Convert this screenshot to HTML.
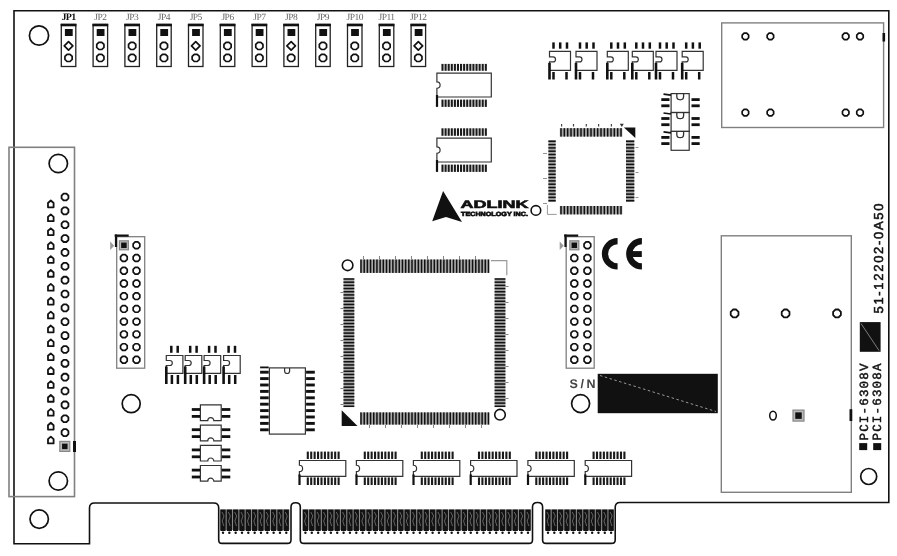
<!DOCTYPE html>
<html><head><meta charset="utf-8"><style>
html,body{margin:0;padding:0;background:#fff;}
body{width:897px;height:556px;overflow:hidden;}
svg{display:block;}
text{text-rendering:geometricPrecision;}
body{filter:grayscale(1);}
</style></head><body>
<svg width="897" height="556" viewBox="0 0 897 556">
<path d="M14,10.7 H888.8 V502.5 H620 Q615.2,502.5 615.2,507.5 V540 Q615.2,543.4 611.5,543.4 H546 Q542.6,543.4 542.6,540 V507 Q542.6,502.5 537.6,502.5 Q532.5,502.5 532.5,507 V540 Q532.5,543.4 529,543.4 H304 Q300.3,543.4 300.3,540 V507 Q300.3,502.8 295.6,502.8 Q291,502.8 291,507 V540 Q291,543.4 287.5,543.4 H222 Q218.7,543.4 218.7,540 V508 Q218.7,503 213.7,503 H94.5 Q89.5,503 89.5,508 V543.7 H14 Z" fill="none" stroke="#111" stroke-width="1.6"/>
<circle cx="39" cy="35.5" r="9.6" fill="none" stroke="#111" stroke-width="1.7"/>
<circle cx="58.3" cy="163.5" r="9.2" fill="none" stroke="#111" stroke-width="1.7"/>
<circle cx="58.3" cy="481" r="9.2" fill="none" stroke="#111" stroke-width="1.7"/>
<circle cx="39.2" cy="519.1" r="9.2" fill="none" stroke="#111" stroke-width="1.7"/>
<circle cx="131.2" cy="403.7" r="9" fill="none" stroke="#111" stroke-width="1.7"/>
<circle cx="580.6" cy="403.6" r="9" fill="none" stroke="#111" stroke-width="1.7"/>
<circle cx="868.7" cy="476.5" r="8" fill="none" stroke="#111" stroke-width="1.7"/>
<rect x="61.3" y="24.5" width="14.5" height="42" fill="none" stroke="#222" stroke-width="1.3"/>
<rect x="60.7" y="23.7" width="15.7" height="2.6" fill="#111"/>
<rect x="64.9" y="29" width="7.8" height="7" fill="#111"/>
<polygon points="68.55,41.61 72.84,45.9 68.55,50.19 64.26,45.9" fill="none" stroke="#111" stroke-width="1.7" stroke-linejoin="round"/>
<polygon points="72.15,59.39 70.04,61.5 67.06,61.5 64.95,59.39 64.95,56.41 67.06,54.3 70.04,54.3 72.15,56.41" fill="none" stroke="#111" stroke-width="1.7" stroke-linejoin="round"/>
<text x="68.55" y="20" font-family="Liberation Serif" font-size="10" fill="#111" font-weight="bold" text-anchor="middle" letter-spacing="-0.6">JP1</text>
<rect x="93.1" y="24.5" width="14.5" height="42" fill="none" stroke="#222" stroke-width="1.3"/>
<rect x="92.5" y="23.7" width="15.7" height="2.6" fill="#111"/>
<rect x="96.7" y="29" width="7.8" height="7" fill="#111"/>
<polygon points="103.95,47.39 101.84,49.5 98.86,49.5 96.75,47.39 96.75,44.41 98.86,42.3 101.84,42.3 103.95,44.41" fill="none" stroke="#111" stroke-width="1.7" stroke-linejoin="round"/>
<polygon points="103.95,59.39 101.84,61.5 98.86,61.5 96.75,59.39 96.75,56.41 98.86,54.3 101.84,54.3 103.95,56.41" fill="none" stroke="#111" stroke-width="1.7" stroke-linejoin="round"/>
<text x="100.35" y="20" font-family="Liberation Serif" font-size="9.5" fill="#666" font-weight="normal" text-anchor="middle" letter-spacing="-0.5">JP2</text>
<rect x="124.9" y="24.5" width="14.5" height="42" fill="none" stroke="#222" stroke-width="1.3"/>
<rect x="124.3" y="23.7" width="15.7" height="2.6" fill="#111"/>
<rect x="128.5" y="29" width="7.8" height="7" fill="#111"/>
<polygon points="135.75,47.39 133.64,49.5 130.66,49.5 128.55,47.39 128.55,44.41 130.66,42.3 133.64,42.3 135.75,44.41" fill="none" stroke="#111" stroke-width="1.7" stroke-linejoin="round"/>
<polygon points="135.75,59.39 133.64,61.5 130.66,61.5 128.55,59.39 128.55,56.41 130.66,54.3 133.64,54.3 135.75,56.41" fill="none" stroke="#111" stroke-width="1.7" stroke-linejoin="round"/>
<text x="132.15" y="20" font-family="Liberation Serif" font-size="9.5" fill="#666" font-weight="normal" text-anchor="middle" letter-spacing="-0.5">JP3</text>
<rect x="156.7" y="24.5" width="14.5" height="42" fill="none" stroke="#222" stroke-width="1.3"/>
<rect x="156.1" y="23.7" width="15.7" height="2.6" fill="#111"/>
<rect x="160.3" y="29" width="7.8" height="7" fill="#111"/>
<polygon points="167.55,47.39 165.44,49.5 162.46,49.5 160.35,47.39 160.35,44.41 162.46,42.3 165.44,42.3 167.55,44.41" fill="none" stroke="#111" stroke-width="1.7" stroke-linejoin="round"/>
<polygon points="167.55,59.39 165.44,61.5 162.46,61.5 160.35,59.39 160.35,56.41 162.46,54.3 165.44,54.3 167.55,56.41" fill="none" stroke="#111" stroke-width="1.7" stroke-linejoin="round"/>
<text x="163.95" y="20" font-family="Liberation Serif" font-size="9.5" fill="#666" font-weight="normal" text-anchor="middle" letter-spacing="-0.5">JP4</text>
<rect x="188.5" y="24.5" width="14.5" height="42" fill="none" stroke="#222" stroke-width="1.3"/>
<rect x="187.9" y="23.7" width="15.7" height="2.6" fill="#111"/>
<rect x="192.1" y="29" width="7.8" height="7" fill="#111"/>
<polygon points="195.75,41.61 200.04,45.9 195.75,50.19 191.46,45.9" fill="none" stroke="#111" stroke-width="1.7" stroke-linejoin="round"/>
<polygon points="199.35,59.39 197.24,61.5 194.26,61.5 192.15,59.39 192.15,56.41 194.26,54.3 197.24,54.3 199.35,56.41" fill="none" stroke="#111" stroke-width="1.7" stroke-linejoin="round"/>
<text x="195.75" y="20" font-family="Liberation Serif" font-size="9.5" fill="#666" font-weight="normal" text-anchor="middle" letter-spacing="-0.5">JP5</text>
<rect x="220.3" y="24.5" width="14.5" height="42" fill="none" stroke="#222" stroke-width="1.3"/>
<rect x="219.7" y="23.7" width="15.7" height="2.6" fill="#111"/>
<rect x="223.9" y="29" width="7.8" height="7" fill="#111"/>
<polygon points="231.15,47.39 229.04,49.5 226.06,49.5 223.95,47.39 223.95,44.41 226.06,42.3 229.04,42.3 231.15,44.41" fill="none" stroke="#111" stroke-width="1.7" stroke-linejoin="round"/>
<polygon points="231.15,59.39 229.04,61.5 226.06,61.5 223.95,59.39 223.95,56.41 226.06,54.3 229.04,54.3 231.15,56.41" fill="none" stroke="#111" stroke-width="1.7" stroke-linejoin="round"/>
<text x="227.55" y="20" font-family="Liberation Serif" font-size="9.5" fill="#666" font-weight="normal" text-anchor="middle" letter-spacing="-0.5">JP6</text>
<rect x="252.1" y="24.5" width="14.5" height="42" fill="none" stroke="#222" stroke-width="1.3"/>
<rect x="251.5" y="23.7" width="15.7" height="2.6" fill="#111"/>
<rect x="255.7" y="29" width="7.8" height="7" fill="#111"/>
<polygon points="262.95,47.39 260.84,49.5 257.86,49.5 255.75,47.39 255.75,44.41 257.86,42.3 260.84,42.3 262.95,44.41" fill="none" stroke="#111" stroke-width="1.7" stroke-linejoin="round"/>
<polygon points="262.95,59.39 260.84,61.5 257.86,61.5 255.75,59.39 255.75,56.41 257.86,54.3 260.84,54.3 262.95,56.41" fill="none" stroke="#111" stroke-width="1.7" stroke-linejoin="round"/>
<text x="259.35" y="20" font-family="Liberation Serif" font-size="9.5" fill="#666" font-weight="normal" text-anchor="middle" letter-spacing="-0.5">JP7</text>
<rect x="283.9" y="24.5" width="14.5" height="42" fill="none" stroke="#222" stroke-width="1.3"/>
<rect x="283.3" y="23.7" width="15.7" height="2.6" fill="#111"/>
<rect x="287.5" y="29" width="7.8" height="7" fill="#111"/>
<polygon points="291.15,41.61 295.44,45.9 291.15,50.19 286.86,45.9" fill="none" stroke="#111" stroke-width="1.7" stroke-linejoin="round"/>
<polygon points="294.75,59.39 292.64,61.5 289.66,61.5 287.55,59.39 287.55,56.41 289.66,54.3 292.64,54.3 294.75,56.41" fill="none" stroke="#111" stroke-width="1.7" stroke-linejoin="round"/>
<text x="291.15" y="20" font-family="Liberation Serif" font-size="9.5" fill="#666" font-weight="normal" text-anchor="middle" letter-spacing="-0.5">JP8</text>
<rect x="315.7" y="24.5" width="14.5" height="42" fill="none" stroke="#222" stroke-width="1.3"/>
<rect x="315.1" y="23.7" width="15.7" height="2.6" fill="#111"/>
<rect x="319.3" y="29" width="7.8" height="7" fill="#111"/>
<polygon points="326.55,47.39 324.44,49.5 321.46,49.5 319.35,47.39 319.35,44.41 321.46,42.3 324.44,42.3 326.55,44.41" fill="none" stroke="#111" stroke-width="1.7" stroke-linejoin="round"/>
<polygon points="326.55,59.39 324.44,61.5 321.46,61.5 319.35,59.39 319.35,56.41 321.46,54.3 324.44,54.3 326.55,56.41" fill="none" stroke="#111" stroke-width="1.7" stroke-linejoin="round"/>
<text x="322.95" y="20" font-family="Liberation Serif" font-size="9.5" fill="#666" font-weight="normal" text-anchor="middle" letter-spacing="-0.5">JP9</text>
<rect x="347.5" y="24.5" width="14.5" height="42" fill="none" stroke="#222" stroke-width="1.3"/>
<rect x="346.9" y="23.7" width="15.7" height="2.6" fill="#111"/>
<rect x="351.1" y="29" width="7.8" height="7" fill="#111"/>
<polygon points="358.35,47.39 356.24,49.5 353.26,49.5 351.15,47.39 351.15,44.41 353.26,42.3 356.24,42.3 358.35,44.41" fill="none" stroke="#111" stroke-width="1.7" stroke-linejoin="round"/>
<polygon points="358.35,59.39 356.24,61.5 353.26,61.5 351.15,59.39 351.15,56.41 353.26,54.3 356.24,54.3 358.35,56.41" fill="none" stroke="#111" stroke-width="1.7" stroke-linejoin="round"/>
<text x="354.75" y="20" font-family="Liberation Serif" font-size="9.5" fill="#666" font-weight="normal" text-anchor="middle" letter-spacing="-0.5">JP10</text>
<rect x="379.3" y="24.5" width="14.5" height="42" fill="none" stroke="#222" stroke-width="1.3"/>
<rect x="378.7" y="23.7" width="15.7" height="2.6" fill="#111"/>
<rect x="382.9" y="29" width="7.8" height="7" fill="#111"/>
<polygon points="390.15,47.39 388.04,49.5 385.06,49.5 382.95,47.39 382.95,44.41 385.06,42.3 388.04,42.3 390.15,44.41" fill="none" stroke="#111" stroke-width="1.7" stroke-linejoin="round"/>
<polygon points="390.15,59.39 388.04,61.5 385.06,61.5 382.95,59.39 382.95,56.41 385.06,54.3 388.04,54.3 390.15,56.41" fill="none" stroke="#111" stroke-width="1.7" stroke-linejoin="round"/>
<text x="386.55" y="20" font-family="Liberation Serif" font-size="9.5" fill="#666" font-weight="normal" text-anchor="middle" letter-spacing="-0.5">JP11</text>
<rect x="411.1" y="24.5" width="14.5" height="42" fill="none" stroke="#222" stroke-width="1.3"/>
<rect x="410.5" y="23.7" width="15.7" height="2.6" fill="#111"/>
<rect x="414.7" y="29" width="7.8" height="7" fill="#111"/>
<polygon points="418.35,41.61 422.64,45.9 418.35,50.19 414.06,45.9" fill="none" stroke="#111" stroke-width="1.7" stroke-linejoin="round"/>
<polygon points="421.95,59.39 419.84,61.5 416.86,61.5 414.75,59.39 414.75,56.41 416.86,54.3 419.84,54.3 421.95,56.41" fill="none" stroke="#111" stroke-width="1.7" stroke-linejoin="round"/>
<text x="418.35" y="20" font-family="Liberation Serif" font-size="9.5" fill="#666" font-weight="normal" text-anchor="middle" letter-spacing="-0.5">JP12</text>
<rect x="9" y="147.3" width="65.5" height="349.3" fill="none" stroke="#808080" stroke-width="1.6"/>
<polygon points="68.42,198.42 66.42,200.42 63.58,200.42 61.58,198.42 61.58,195.58 63.58,193.58 66.42,193.58 68.42,195.58" fill="none" stroke="#111" stroke-width="1.8" stroke-linejoin="round"/>
<polygon points="68.42,212.28 66.42,214.28 63.58,214.28 61.58,212.28 61.58,209.44 63.58,207.44 66.42,207.44 68.42,209.44" fill="none" stroke="#111" stroke-width="1.8" stroke-linejoin="round"/>
<polygon points="68.42,226.14 66.42,228.14 63.58,228.14 61.58,226.14 61.58,223.3 63.58,221.3 66.42,221.3 68.42,223.3" fill="none" stroke="#111" stroke-width="1.8" stroke-linejoin="round"/>
<polygon points="68.42,240 66.42,242 63.58,242 61.58,240 61.58,237.16 63.58,235.16 66.42,235.16 68.42,237.16" fill="none" stroke="#111" stroke-width="1.8" stroke-linejoin="round"/>
<polygon points="68.42,253.86 66.42,255.86 63.58,255.86 61.58,253.86 61.58,251.02 63.58,249.02 66.42,249.02 68.42,251.02" fill="none" stroke="#111" stroke-width="1.8" stroke-linejoin="round"/>
<polygon points="68.42,267.72 66.42,269.72 63.58,269.72 61.58,267.72 61.58,264.88 63.58,262.88 66.42,262.88 68.42,264.88" fill="none" stroke="#111" stroke-width="1.8" stroke-linejoin="round"/>
<polygon points="68.42,281.58 66.42,283.58 63.58,283.58 61.58,281.58 61.58,278.74 63.58,276.74 66.42,276.74 68.42,278.74" fill="none" stroke="#111" stroke-width="1.8" stroke-linejoin="round"/>
<polygon points="68.42,295.44 66.42,297.44 63.58,297.44 61.58,295.44 61.58,292.6 63.58,290.6 66.42,290.6 68.42,292.6" fill="none" stroke="#111" stroke-width="1.8" stroke-linejoin="round"/>
<polygon points="68.42,309.3 66.42,311.3 63.58,311.3 61.58,309.3 61.58,306.46 63.58,304.46 66.42,304.46 68.42,306.46" fill="none" stroke="#111" stroke-width="1.8" stroke-linejoin="round"/>
<polygon points="68.42,323.16 66.42,325.16 63.58,325.16 61.58,323.16 61.58,320.32 63.58,318.32 66.42,318.32 68.42,320.32" fill="none" stroke="#111" stroke-width="1.8" stroke-linejoin="round"/>
<polygon points="68.42,337.02 66.42,339.02 63.58,339.02 61.58,337.02 61.58,334.18 63.58,332.18 66.42,332.18 68.42,334.18" fill="none" stroke="#111" stroke-width="1.8" stroke-linejoin="round"/>
<polygon points="68.42,350.88 66.42,352.88 63.58,352.88 61.58,350.88 61.58,348.04 63.58,346.04 66.42,346.04 68.42,348.04" fill="none" stroke="#111" stroke-width="1.8" stroke-linejoin="round"/>
<polygon points="68.42,364.74 66.42,366.74 63.58,366.74 61.58,364.74 61.58,361.9 63.58,359.9 66.42,359.9 68.42,361.9" fill="none" stroke="#111" stroke-width="1.8" stroke-linejoin="round"/>
<polygon points="68.42,378.6 66.42,380.6 63.58,380.6 61.58,378.6 61.58,375.76 63.58,373.76 66.42,373.76 68.42,375.76" fill="none" stroke="#111" stroke-width="1.8" stroke-linejoin="round"/>
<polygon points="68.42,392.46 66.42,394.46 63.58,394.46 61.58,392.46 61.58,389.62 63.58,387.62 66.42,387.62 68.42,389.62" fill="none" stroke="#111" stroke-width="1.8" stroke-linejoin="round"/>
<polygon points="68.42,406.32 66.42,408.32 63.58,408.32 61.58,406.32 61.58,403.48 63.58,401.48 66.42,401.48 68.42,403.48" fill="none" stroke="#111" stroke-width="1.8" stroke-linejoin="round"/>
<polygon points="68.42,420.18 66.42,422.18 63.58,422.18 61.58,420.18 61.58,417.34 63.58,415.34 66.42,415.34 68.42,417.34" fill="none" stroke="#111" stroke-width="1.8" stroke-linejoin="round"/>
<polygon points="68.42,434.04 66.42,436.04 63.58,436.04 61.58,434.04 61.58,431.2 63.58,429.2 66.42,429.2 68.42,431.2" fill="none" stroke="#111" stroke-width="1.8" stroke-linejoin="round"/>
<rect x="59.8" y="441.4" width="10" height="10" fill="#bbb" stroke="#888" stroke-width="1.2"/>
<rect x="62.05" y="443.65" width="5.5" height="5.5" fill="#111"/>
<polygon points="47.99,203.01 50.8,200.53 53.6,203.01 53.6,207.3 47.99,207.3" fill="none" stroke="#111" stroke-width="1.8" stroke-linejoin="round"/>
<polygon points="47.99,216.9 50.8,214.42 53.6,216.9 53.6,221.19 47.99,221.19" fill="none" stroke="#111" stroke-width="1.8" stroke-linejoin="round"/>
<polygon points="47.99,230.79 50.8,228.31 53.6,230.79 53.6,235.08 47.99,235.08" fill="none" stroke="#111" stroke-width="1.8" stroke-linejoin="round"/>
<polygon points="47.99,244.68 50.8,242.21 53.6,244.68 53.6,248.97 47.99,248.97" fill="none" stroke="#111" stroke-width="1.8" stroke-linejoin="round"/>
<polygon points="47.99,258.57 50.8,256.1 53.6,258.57 53.6,262.86 47.99,262.86" fill="none" stroke="#111" stroke-width="1.8" stroke-linejoin="round"/>
<polygon points="47.99,272.46 50.8,269.99 53.6,272.46 53.6,276.75 47.99,276.75" fill="none" stroke="#111" stroke-width="1.8" stroke-linejoin="round"/>
<polygon points="47.99,286.35 50.8,283.88 53.6,286.35 53.6,290.64 47.99,290.64" fill="none" stroke="#111" stroke-width="1.8" stroke-linejoin="round"/>
<polygon points="47.99,300.24 50.8,297.77 53.6,300.24 53.6,304.53 47.99,304.53" fill="none" stroke="#111" stroke-width="1.8" stroke-linejoin="round"/>
<polygon points="47.99,314.13 50.8,311.66 53.6,314.13 53.6,318.42 47.99,318.42" fill="none" stroke="#111" stroke-width="1.8" stroke-linejoin="round"/>
<polygon points="47.99,328.02 50.8,325.55 53.6,328.02 53.6,332.31 47.99,332.31" fill="none" stroke="#111" stroke-width="1.8" stroke-linejoin="round"/>
<polygon points="47.99,341.91 50.8,339.44 53.6,341.91 53.6,346.2 47.99,346.2" fill="none" stroke="#111" stroke-width="1.8" stroke-linejoin="round"/>
<polygon points="47.99,355.8 50.8,353.33 53.6,355.8 53.6,360.09 47.99,360.09" fill="none" stroke="#111" stroke-width="1.8" stroke-linejoin="round"/>
<polygon points="47.99,369.69 50.8,367.22 53.6,369.69 53.6,373.98 47.99,373.98" fill="none" stroke="#111" stroke-width="1.8" stroke-linejoin="round"/>
<polygon points="47.99,383.58 50.8,381.11 53.6,383.58 53.6,387.87 47.99,387.87" fill="none" stroke="#111" stroke-width="1.8" stroke-linejoin="round"/>
<polygon points="47.99,397.47 50.8,395 53.6,397.47 53.6,401.76 47.99,401.76" fill="none" stroke="#111" stroke-width="1.8" stroke-linejoin="round"/>
<polygon points="47.99,411.36 50.8,408.89 53.6,411.36 53.6,415.65 47.99,415.65" fill="none" stroke="#111" stroke-width="1.8" stroke-linejoin="round"/>
<polygon points="47.99,425.25 50.8,422.78 53.6,425.25 53.6,429.54 47.99,429.54" fill="none" stroke="#111" stroke-width="1.8" stroke-linejoin="round"/>
<polygon points="47.99,439.14 50.8,436.67 53.6,439.14 53.6,443.43 47.99,443.43" fill="none" stroke="#111" stroke-width="1.8" stroke-linejoin="round"/>
<rect x="73" y="441" width="3" height="11" fill="#111"/>
<rect x="116.7" y="236.7" width="28" height="131.5" fill="none" stroke="#808080" stroke-width="1.3"/>
<rect x="114.7" y="234.5" width="14" height="2.2" fill="#111"/>
<rect x="114.9" y="234.5" width="2.2" height="12.5" fill="#111"/>
<polygon points="110.2,241.5 114.2,245.7 110.2,249.9" fill="#999"/>
<rect x="119.4" y="240.8" width="9" height="9" fill="#bbb" stroke="#888" stroke-width="1.2"/>
<rect x="121.15" y="242.55" width="5.5" height="5.5" fill="#111"/>
<polygon points="139.83,246.68 137.88,248.63 135.12,248.63 133.17,246.68 133.17,243.92 135.12,241.97 137.88,241.97 139.83,243.92" fill="none" stroke="#111" stroke-width="1.7" stroke-linejoin="round"/>
<polygon points="127.23,259.4 125.28,261.35 122.52,261.35 120.57,259.4 120.57,256.64 122.52,254.69 125.28,254.69 127.23,256.64" fill="none" stroke="#111" stroke-width="1.7" stroke-linejoin="round"/>
<polygon points="139.83,259.4 137.88,261.35 135.12,261.35 133.17,259.4 133.17,256.64 135.12,254.69 137.88,254.69 139.83,256.64" fill="none" stroke="#111" stroke-width="1.7" stroke-linejoin="round"/>
<polygon points="127.23,272.12 125.28,274.07 122.52,274.07 120.57,272.12 120.57,269.36 122.52,267.41 125.28,267.41 127.23,269.36" fill="none" stroke="#111" stroke-width="1.7" stroke-linejoin="round"/>
<polygon points="139.83,272.12 137.88,274.07 135.12,274.07 133.17,272.12 133.17,269.36 135.12,267.41 137.88,267.41 139.83,269.36" fill="none" stroke="#111" stroke-width="1.7" stroke-linejoin="round"/>
<polygon points="127.23,284.84 125.28,286.79 122.52,286.79 120.57,284.84 120.57,282.08 122.52,280.13 125.28,280.13 127.23,282.08" fill="none" stroke="#111" stroke-width="1.7" stroke-linejoin="round"/>
<polygon points="139.83,284.84 137.88,286.79 135.12,286.79 133.17,284.84 133.17,282.08 135.12,280.13 137.88,280.13 139.83,282.08" fill="none" stroke="#111" stroke-width="1.7" stroke-linejoin="round"/>
<polygon points="127.23,297.56 125.28,299.51 122.52,299.51 120.57,297.56 120.57,294.8 122.52,292.85 125.28,292.85 127.23,294.8" fill="none" stroke="#111" stroke-width="1.7" stroke-linejoin="round"/>
<polygon points="139.83,297.56 137.88,299.51 135.12,299.51 133.17,297.56 133.17,294.8 135.12,292.85 137.88,292.85 139.83,294.8" fill="none" stroke="#111" stroke-width="1.7" stroke-linejoin="round"/>
<polygon points="127.23,310.28 125.28,312.23 122.52,312.23 120.57,310.28 120.57,307.52 122.52,305.57 125.28,305.57 127.23,307.52" fill="none" stroke="#111" stroke-width="1.7" stroke-linejoin="round"/>
<polygon points="139.83,310.28 137.88,312.23 135.12,312.23 133.17,310.28 133.17,307.52 135.12,305.57 137.88,305.57 139.83,307.52" fill="none" stroke="#111" stroke-width="1.7" stroke-linejoin="round"/>
<polygon points="127.23,323 125.28,324.95 122.52,324.95 120.57,323 120.57,320.24 122.52,318.29 125.28,318.29 127.23,320.24" fill="none" stroke="#111" stroke-width="1.7" stroke-linejoin="round"/>
<polygon points="139.83,323 137.88,324.95 135.12,324.95 133.17,323 133.17,320.24 135.12,318.29 137.88,318.29 139.83,320.24" fill="none" stroke="#111" stroke-width="1.7" stroke-linejoin="round"/>
<polygon points="127.23,335.72 125.28,337.67 122.52,337.67 120.57,335.72 120.57,332.96 122.52,331.01 125.28,331.01 127.23,332.96" fill="none" stroke="#111" stroke-width="1.7" stroke-linejoin="round"/>
<polygon points="139.83,335.72 137.88,337.67 135.12,337.67 133.17,335.72 133.17,332.96 135.12,331.01 137.88,331.01 139.83,332.96" fill="none" stroke="#111" stroke-width="1.7" stroke-linejoin="round"/>
<polygon points="127.23,348.44 125.28,350.39 122.52,350.39 120.57,348.44 120.57,345.68 122.52,343.73 125.28,343.73 127.23,345.68" fill="none" stroke="#111" stroke-width="1.7" stroke-linejoin="round"/>
<polygon points="139.83,348.44 137.88,350.39 135.12,350.39 133.17,348.44 133.17,345.68 135.12,343.73 137.88,343.73 139.83,345.68" fill="none" stroke="#111" stroke-width="1.7" stroke-linejoin="round"/>
<polygon points="127.23,361.16 125.28,363.11 122.52,363.11 120.57,361.16 120.57,358.4 122.52,356.45 125.28,356.45 127.23,358.4" fill="none" stroke="#111" stroke-width="1.7" stroke-linejoin="round"/>
<polygon points="139.83,361.16 137.88,363.11 135.12,363.11 133.17,361.16 133.17,358.4 135.12,356.45 137.88,356.45 139.83,358.4" fill="none" stroke="#111" stroke-width="1.7" stroke-linejoin="round"/>
<rect x="566.2" y="236.7" width="28" height="131.5" fill="none" stroke="#808080" stroke-width="1.3"/>
<rect x="564.2" y="234.5" width="14" height="2.2" fill="#111"/>
<rect x="564.4" y="234.5" width="2.2" height="12.5" fill="#111"/>
<polygon points="559.7,241.5 563.7,245.7 559.7,249.9" fill="#999"/>
<rect x="569.8" y="240.8" width="9" height="9" fill="#bbb" stroke="#888" stroke-width="1.2"/>
<rect x="571.55" y="242.55" width="5.5" height="5.5" fill="#111"/>
<polygon points="590.73,246.68 588.78,248.63 586.02,248.63 584.07,246.68 584.07,243.92 586.02,241.97 588.78,241.97 590.73,243.92" fill="none" stroke="#111" stroke-width="1.7" stroke-linejoin="round"/>
<polygon points="577.63,259.4 575.68,261.35 572.92,261.35 570.97,259.4 570.97,256.64 572.92,254.69 575.68,254.69 577.63,256.64" fill="none" stroke="#111" stroke-width="1.7" stroke-linejoin="round"/>
<polygon points="590.73,259.4 588.78,261.35 586.02,261.35 584.07,259.4 584.07,256.64 586.02,254.69 588.78,254.69 590.73,256.64" fill="none" stroke="#111" stroke-width="1.7" stroke-linejoin="round"/>
<polygon points="577.63,272.12 575.68,274.07 572.92,274.07 570.97,272.12 570.97,269.36 572.92,267.41 575.68,267.41 577.63,269.36" fill="none" stroke="#111" stroke-width="1.7" stroke-linejoin="round"/>
<polygon points="590.73,272.12 588.78,274.07 586.02,274.07 584.07,272.12 584.07,269.36 586.02,267.41 588.78,267.41 590.73,269.36" fill="none" stroke="#111" stroke-width="1.7" stroke-linejoin="round"/>
<polygon points="577.63,284.84 575.68,286.79 572.92,286.79 570.97,284.84 570.97,282.08 572.92,280.13 575.68,280.13 577.63,282.08" fill="none" stroke="#111" stroke-width="1.7" stroke-linejoin="round"/>
<polygon points="590.73,284.84 588.78,286.79 586.02,286.79 584.07,284.84 584.07,282.08 586.02,280.13 588.78,280.13 590.73,282.08" fill="none" stroke="#111" stroke-width="1.7" stroke-linejoin="round"/>
<polygon points="577.63,297.56 575.68,299.51 572.92,299.51 570.97,297.56 570.97,294.8 572.92,292.85 575.68,292.85 577.63,294.8" fill="none" stroke="#111" stroke-width="1.7" stroke-linejoin="round"/>
<polygon points="590.73,297.56 588.78,299.51 586.02,299.51 584.07,297.56 584.07,294.8 586.02,292.85 588.78,292.85 590.73,294.8" fill="none" stroke="#111" stroke-width="1.7" stroke-linejoin="round"/>
<polygon points="577.63,310.28 575.68,312.23 572.92,312.23 570.97,310.28 570.97,307.52 572.92,305.57 575.68,305.57 577.63,307.52" fill="none" stroke="#111" stroke-width="1.7" stroke-linejoin="round"/>
<polygon points="590.73,310.28 588.78,312.23 586.02,312.23 584.07,310.28 584.07,307.52 586.02,305.57 588.78,305.57 590.73,307.52" fill="none" stroke="#111" stroke-width="1.7" stroke-linejoin="round"/>
<polygon points="577.63,323 575.68,324.95 572.92,324.95 570.97,323 570.97,320.24 572.92,318.29 575.68,318.29 577.63,320.24" fill="none" stroke="#111" stroke-width="1.7" stroke-linejoin="round"/>
<polygon points="590.73,323 588.78,324.95 586.02,324.95 584.07,323 584.07,320.24 586.02,318.29 588.78,318.29 590.73,320.24" fill="none" stroke="#111" stroke-width="1.7" stroke-linejoin="round"/>
<polygon points="577.63,335.72 575.68,337.67 572.92,337.67 570.97,335.72 570.97,332.96 572.92,331.01 575.68,331.01 577.63,332.96" fill="none" stroke="#111" stroke-width="1.7" stroke-linejoin="round"/>
<polygon points="590.73,335.72 588.78,337.67 586.02,337.67 584.07,335.72 584.07,332.96 586.02,331.01 588.78,331.01 590.73,332.96" fill="none" stroke="#111" stroke-width="1.7" stroke-linejoin="round"/>
<polygon points="577.63,348.44 575.68,350.39 572.92,350.39 570.97,348.44 570.97,345.68 572.92,343.73 575.68,343.73 577.63,345.68" fill="none" stroke="#111" stroke-width="1.7" stroke-linejoin="round"/>
<polygon points="590.73,348.44 588.78,350.39 586.02,350.39 584.07,348.44 584.07,345.68 586.02,343.73 588.78,343.73 590.73,345.68" fill="none" stroke="#111" stroke-width="1.7" stroke-linejoin="round"/>
<polygon points="577.63,361.16 575.68,363.11 572.92,363.11 570.97,361.16 570.97,358.4 572.92,356.45 575.68,356.45 577.63,358.4" fill="none" stroke="#111" stroke-width="1.7" stroke-linejoin="round"/>
<polygon points="590.73,361.16 588.78,363.11 586.02,363.11 584.07,361.16 584.07,358.4 586.02,356.45 588.78,356.45 590.73,358.4" fill="none" stroke="#111" stroke-width="1.7" stroke-linejoin="round"/>
<path d="M549.5,51.4 H570.5 V70.4 H549.5 V61.88 H553 A2.5,2.5 0 0 0 553,56.88 H549.5 Z" fill="none" stroke="#333" stroke-width="1.2"/>
<rect x="552.25" y="42.4" width="2.5" height="6.3" fill="#111"/>
<rect x="558.95" y="42.4" width="2.5" height="6.3" fill="#111"/>
<rect x="565.75" y="42.4" width="2.5" height="6.3" fill="#111"/>
<rect x="552.25" y="72" width="2.5" height="7.5" fill="#111"/>
<rect x="565.25" y="72" width="2.5" height="7.5" fill="#111"/>
<rect x="548.2" y="62.88" width="2.6" height="16.62" fill="#111"/>
<path d="M576,51.4 H597 V70.4 H576 V61.88 H579.5 A2.5,2.5 0 0 0 579.5,56.88 H576 Z" fill="none" stroke="#333" stroke-width="1.2"/>
<rect x="578.75" y="42.4" width="2.5" height="6.3" fill="#111"/>
<rect x="585.45" y="42.4" width="2.5" height="6.3" fill="#111"/>
<rect x="592.25" y="42.4" width="2.5" height="6.3" fill="#111"/>
<rect x="578.75" y="72" width="2.5" height="7.5" fill="#111"/>
<rect x="591.75" y="72" width="2.5" height="7.5" fill="#111"/>
<rect x="574.7" y="62.88" width="2.6" height="16.62" fill="#111"/>
<path d="M607.3,51.4 H628.3 V70.4 H607.3 V61.88 H610.8 A2.5,2.5 0 0 0 610.8,56.88 H607.3 Z" fill="none" stroke="#333" stroke-width="1.2"/>
<rect x="610.05" y="42.4" width="2.5" height="6.3" fill="#111"/>
<rect x="616.75" y="42.4" width="2.5" height="6.3" fill="#111"/>
<rect x="623.55" y="42.4" width="2.5" height="6.3" fill="#111"/>
<rect x="610.05" y="72" width="2.5" height="7.5" fill="#111"/>
<rect x="623.05" y="72" width="2.5" height="7.5" fill="#111"/>
<rect x="606" y="62.88" width="2.6" height="16.62" fill="#111"/>
<path d="M632.3,51.4 H653.3 V70.4 H632.3 V61.88 H635.8 A2.5,2.5 0 0 0 635.8,56.88 H632.3 Z" fill="none" stroke="#333" stroke-width="1.2"/>
<rect x="635.05" y="42.4" width="2.5" height="6.3" fill="#111"/>
<rect x="641.75" y="42.4" width="2.5" height="6.3" fill="#111"/>
<rect x="648.55" y="42.4" width="2.5" height="6.3" fill="#111"/>
<rect x="635.05" y="72" width="2.5" height="7.5" fill="#111"/>
<rect x="648.05" y="72" width="2.5" height="7.5" fill="#111"/>
<rect x="631" y="62.88" width="2.6" height="16.62" fill="#111"/>
<path d="M656,51.4 H677 V70.4 H656 V61.88 H659.5 A2.5,2.5 0 0 0 659.5,56.88 H656 Z" fill="none" stroke="#333" stroke-width="1.2"/>
<rect x="658.75" y="42.4" width="2.5" height="6.3" fill="#111"/>
<rect x="665.45" y="42.4" width="2.5" height="6.3" fill="#111"/>
<rect x="672.25" y="42.4" width="2.5" height="6.3" fill="#111"/>
<rect x="658.75" y="72" width="2.5" height="7.5" fill="#111"/>
<rect x="671.75" y="72" width="2.5" height="7.5" fill="#111"/>
<rect x="654.7" y="62.88" width="2.6" height="16.62" fill="#111"/>
<path d="M682.2,51.4 H703.2 V70.4 H682.2 V61.88 H685.7 A2.5,2.5 0 0 0 685.7,56.88 H682.2 Z" fill="none" stroke="#333" stroke-width="1.2"/>
<rect x="684.95" y="42.4" width="2.5" height="6.3" fill="#111"/>
<rect x="691.65" y="42.4" width="2.5" height="6.3" fill="#111"/>
<rect x="698.45" y="42.4" width="2.5" height="6.3" fill="#111"/>
<rect x="684.95" y="72" width="2.5" height="7.5" fill="#111"/>
<rect x="697.95" y="72" width="2.5" height="7.5" fill="#111"/>
<rect x="680.9" y="62.88" width="2.6" height="16.62" fill="#111"/>
<path d="M166.3,355.5 H182.9 V373.3 H166.3 V365.48 H169.8 A2.5,2.5 0 0 0 169.8,360.48 H166.3 Z" fill="none" stroke="#333" stroke-width="1.2"/>
<rect x="170.05" y="345.8" width="2.5" height="7" fill="#111"/>
<rect x="176.45" y="345.8" width="2.5" height="7" fill="#111"/>
<rect x="170.65" y="375" width="2.5" height="9" fill="#111"/>
<rect x="176.65" y="375" width="2.5" height="9" fill="#111"/>
<rect x="165" y="366.48" width="2.6" height="17.52" fill="#111"/>
<path d="M185.2,355.5 H201.8 V373.3 H185.2 V365.48 H188.7 A2.5,2.5 0 0 0 188.7,360.48 H185.2 Z" fill="none" stroke="#333" stroke-width="1.2"/>
<rect x="188.95" y="345.8" width="2.5" height="7" fill="#111"/>
<rect x="195.35" y="345.8" width="2.5" height="7" fill="#111"/>
<rect x="189.55" y="375" width="2.5" height="9" fill="#111"/>
<rect x="195.55" y="375" width="2.5" height="9" fill="#111"/>
<rect x="183.9" y="366.48" width="2.6" height="17.52" fill="#111"/>
<path d="M204.1,355.5 H220.7 V373.3 H204.1 V365.48 H207.6 A2.5,2.5 0 0 0 207.6,360.48 H204.1 Z" fill="none" stroke="#333" stroke-width="1.2"/>
<rect x="207.85" y="345.8" width="2.5" height="7" fill="#111"/>
<rect x="214.25" y="345.8" width="2.5" height="7" fill="#111"/>
<rect x="208.45" y="375" width="2.5" height="9" fill="#111"/>
<rect x="214.45" y="375" width="2.5" height="9" fill="#111"/>
<rect x="202.8" y="366.48" width="2.6" height="17.52" fill="#111"/>
<path d="M223.6,355.5 H240.2 V373.3 H223.6 V365.48 H227.1 A2.5,2.5 0 0 0 227.1,360.48 H223.6 Z" fill="none" stroke="#333" stroke-width="1.2"/>
<rect x="227.35" y="345.8" width="2.5" height="7" fill="#111"/>
<rect x="233.75" y="345.8" width="2.5" height="7" fill="#111"/>
<rect x="227.95" y="375" width="2.5" height="9" fill="#111"/>
<rect x="233.95" y="375" width="2.5" height="9" fill="#111"/>
<rect x="222.3" y="366.48" width="2.6" height="17.52" fill="#111"/>
<path d="M436.9,73.2 H491.3 V97 H436.9 V88.3 A3.2,3.2 0 0 0 436.9,81.9 Z" fill="none" stroke="#333" stroke-width="1.2"/>
<rect x="441.45" y="63.9" width="2.1" height="6.9" fill="#1a1a1a"/>
<rect x="441.45" y="99.6" width="2.1" height="7.3" fill="#1a1a1a"/>
<rect x="444.54" y="63.9" width="2.1" height="6.9" fill="#1a1a1a"/>
<rect x="444.54" y="99.6" width="2.1" height="7.3" fill="#1a1a1a"/>
<rect x="447.64" y="63.9" width="2.1" height="6.9" fill="#1a1a1a"/>
<rect x="447.64" y="99.6" width="2.1" height="7.3" fill="#1a1a1a"/>
<rect x="450.73" y="63.9" width="2.1" height="6.9" fill="#1a1a1a"/>
<rect x="450.73" y="99.6" width="2.1" height="7.3" fill="#1a1a1a"/>
<rect x="453.82" y="63.9" width="2.1" height="6.9" fill="#1a1a1a"/>
<rect x="453.82" y="99.6" width="2.1" height="7.3" fill="#1a1a1a"/>
<rect x="456.91" y="63.9" width="2.1" height="6.9" fill="#1a1a1a"/>
<rect x="456.91" y="99.6" width="2.1" height="7.3" fill="#1a1a1a"/>
<rect x="460.01" y="63.9" width="2.1" height="6.9" fill="#1a1a1a"/>
<rect x="460.01" y="99.6" width="2.1" height="7.3" fill="#1a1a1a"/>
<rect x="463.1" y="63.9" width="2.1" height="6.9" fill="#1a1a1a"/>
<rect x="463.1" y="99.6" width="2.1" height="7.3" fill="#1a1a1a"/>
<rect x="466.19" y="63.9" width="2.1" height="6.9" fill="#1a1a1a"/>
<rect x="466.19" y="99.6" width="2.1" height="7.3" fill="#1a1a1a"/>
<rect x="469.29" y="63.9" width="2.1" height="6.9" fill="#1a1a1a"/>
<rect x="469.29" y="99.6" width="2.1" height="7.3" fill="#1a1a1a"/>
<rect x="472.38" y="63.9" width="2.1" height="6.9" fill="#1a1a1a"/>
<rect x="472.38" y="99.6" width="2.1" height="7.3" fill="#1a1a1a"/>
<rect x="475.47" y="63.9" width="2.1" height="6.9" fill="#1a1a1a"/>
<rect x="475.47" y="99.6" width="2.1" height="7.3" fill="#1a1a1a"/>
<rect x="478.56" y="63.9" width="2.1" height="6.9" fill="#1a1a1a"/>
<rect x="478.56" y="99.6" width="2.1" height="7.3" fill="#1a1a1a"/>
<rect x="481.66" y="63.9" width="2.1" height="6.9" fill="#1a1a1a"/>
<rect x="481.66" y="99.6" width="2.1" height="7.3" fill="#1a1a1a"/>
<rect x="484.75" y="63.9" width="2.1" height="6.9" fill="#1a1a1a"/>
<rect x="484.75" y="99.6" width="2.1" height="7.3" fill="#1a1a1a"/>
<rect x="435.9" y="95" width="2.2" height="11.9" fill="#111"/>
<path d="M436.9,138.2 H491.3 V162 H436.9 V153.3 A3.2,3.2 0 0 0 436.9,146.9 Z" fill="none" stroke="#333" stroke-width="1.2"/>
<rect x="441.45" y="128.3" width="2.1" height="7.5" fill="#1a1a1a"/>
<rect x="441.45" y="164.6" width="2.1" height="7.3" fill="#1a1a1a"/>
<rect x="444.54" y="128.3" width="2.1" height="7.5" fill="#1a1a1a"/>
<rect x="444.54" y="164.6" width="2.1" height="7.3" fill="#1a1a1a"/>
<rect x="447.64" y="128.3" width="2.1" height="7.5" fill="#1a1a1a"/>
<rect x="447.64" y="164.6" width="2.1" height="7.3" fill="#1a1a1a"/>
<rect x="450.73" y="128.3" width="2.1" height="7.5" fill="#1a1a1a"/>
<rect x="450.73" y="164.6" width="2.1" height="7.3" fill="#1a1a1a"/>
<rect x="453.82" y="128.3" width="2.1" height="7.5" fill="#1a1a1a"/>
<rect x="453.82" y="164.6" width="2.1" height="7.3" fill="#1a1a1a"/>
<rect x="456.91" y="128.3" width="2.1" height="7.5" fill="#1a1a1a"/>
<rect x="456.91" y="164.6" width="2.1" height="7.3" fill="#1a1a1a"/>
<rect x="460.01" y="128.3" width="2.1" height="7.5" fill="#1a1a1a"/>
<rect x="460.01" y="164.6" width="2.1" height="7.3" fill="#1a1a1a"/>
<rect x="463.1" y="128.3" width="2.1" height="7.5" fill="#1a1a1a"/>
<rect x="463.1" y="164.6" width="2.1" height="7.3" fill="#1a1a1a"/>
<rect x="466.19" y="128.3" width="2.1" height="7.5" fill="#1a1a1a"/>
<rect x="466.19" y="164.6" width="2.1" height="7.3" fill="#1a1a1a"/>
<rect x="469.29" y="128.3" width="2.1" height="7.5" fill="#1a1a1a"/>
<rect x="469.29" y="164.6" width="2.1" height="7.3" fill="#1a1a1a"/>
<rect x="472.38" y="128.3" width="2.1" height="7.5" fill="#1a1a1a"/>
<rect x="472.38" y="164.6" width="2.1" height="7.3" fill="#1a1a1a"/>
<rect x="475.47" y="128.3" width="2.1" height="7.5" fill="#1a1a1a"/>
<rect x="475.47" y="164.6" width="2.1" height="7.3" fill="#1a1a1a"/>
<rect x="478.56" y="128.3" width="2.1" height="7.5" fill="#1a1a1a"/>
<rect x="478.56" y="164.6" width="2.1" height="7.3" fill="#1a1a1a"/>
<rect x="481.66" y="128.3" width="2.1" height="7.5" fill="#1a1a1a"/>
<rect x="481.66" y="164.6" width="2.1" height="7.3" fill="#1a1a1a"/>
<rect x="484.75" y="128.3" width="2.1" height="7.5" fill="#1a1a1a"/>
<rect x="484.75" y="164.6" width="2.1" height="7.3" fill="#1a1a1a"/>
<rect x="435.9" y="160" width="2.2" height="11.9" fill="#111"/>
<path d="M299.4,460.5 H345.8 V476.4 H299.4 V471.65 A3.2,3.2 0 0 0 299.4,465.25 Z" fill="none" stroke="#333" stroke-width="1.2"/>
<rect x="306.75" y="451.6" width="2.1" height="7.4" fill="#1a1a1a"/>
<rect x="306.75" y="477.4" width="2.1" height="7.6" fill="#1a1a1a"/>
<rect x="310.17" y="451.6" width="2.1" height="7.4" fill="#1a1a1a"/>
<rect x="310.17" y="477.4" width="2.1" height="7.6" fill="#1a1a1a"/>
<rect x="313.59" y="451.6" width="2.1" height="7.4" fill="#1a1a1a"/>
<rect x="313.59" y="477.4" width="2.1" height="7.6" fill="#1a1a1a"/>
<rect x="317.02" y="451.6" width="2.1" height="7.4" fill="#1a1a1a"/>
<rect x="317.02" y="477.4" width="2.1" height="7.6" fill="#1a1a1a"/>
<rect x="320.44" y="451.6" width="2.1" height="7.4" fill="#1a1a1a"/>
<rect x="320.44" y="477.4" width="2.1" height="7.6" fill="#1a1a1a"/>
<rect x="323.86" y="451.6" width="2.1" height="7.4" fill="#1a1a1a"/>
<rect x="323.86" y="477.4" width="2.1" height="7.6" fill="#1a1a1a"/>
<rect x="327.28" y="451.6" width="2.1" height="7.4" fill="#1a1a1a"/>
<rect x="327.28" y="477.4" width="2.1" height="7.6" fill="#1a1a1a"/>
<rect x="330.71" y="451.6" width="2.1" height="7.4" fill="#1a1a1a"/>
<rect x="330.71" y="477.4" width="2.1" height="7.6" fill="#1a1a1a"/>
<rect x="334.13" y="451.6" width="2.1" height="7.4" fill="#1a1a1a"/>
<rect x="334.13" y="477.4" width="2.1" height="7.6" fill="#1a1a1a"/>
<rect x="337.55" y="451.6" width="2.1" height="7.4" fill="#1a1a1a"/>
<rect x="337.55" y="477.4" width="2.1" height="7.6" fill="#1a1a1a"/>
<rect x="298.4" y="474.4" width="2.2" height="10.6" fill="#111"/>
<path d="M356.4,460.5 H402.8 V476.4 H356.4 V471.65 A3.2,3.2 0 0 0 356.4,465.25 Z" fill="none" stroke="#333" stroke-width="1.2"/>
<rect x="363.75" y="451.6" width="2.1" height="7.4" fill="#1a1a1a"/>
<rect x="363.75" y="477.4" width="2.1" height="7.6" fill="#1a1a1a"/>
<rect x="367.17" y="451.6" width="2.1" height="7.4" fill="#1a1a1a"/>
<rect x="367.17" y="477.4" width="2.1" height="7.6" fill="#1a1a1a"/>
<rect x="370.59" y="451.6" width="2.1" height="7.4" fill="#1a1a1a"/>
<rect x="370.59" y="477.4" width="2.1" height="7.6" fill="#1a1a1a"/>
<rect x="374.02" y="451.6" width="2.1" height="7.4" fill="#1a1a1a"/>
<rect x="374.02" y="477.4" width="2.1" height="7.6" fill="#1a1a1a"/>
<rect x="377.44" y="451.6" width="2.1" height="7.4" fill="#1a1a1a"/>
<rect x="377.44" y="477.4" width="2.1" height="7.6" fill="#1a1a1a"/>
<rect x="380.86" y="451.6" width="2.1" height="7.4" fill="#1a1a1a"/>
<rect x="380.86" y="477.4" width="2.1" height="7.6" fill="#1a1a1a"/>
<rect x="384.28" y="451.6" width="2.1" height="7.4" fill="#1a1a1a"/>
<rect x="384.28" y="477.4" width="2.1" height="7.6" fill="#1a1a1a"/>
<rect x="387.71" y="451.6" width="2.1" height="7.4" fill="#1a1a1a"/>
<rect x="387.71" y="477.4" width="2.1" height="7.6" fill="#1a1a1a"/>
<rect x="391.13" y="451.6" width="2.1" height="7.4" fill="#1a1a1a"/>
<rect x="391.13" y="477.4" width="2.1" height="7.6" fill="#1a1a1a"/>
<rect x="394.55" y="451.6" width="2.1" height="7.4" fill="#1a1a1a"/>
<rect x="394.55" y="477.4" width="2.1" height="7.6" fill="#1a1a1a"/>
<rect x="355.4" y="474.4" width="2.2" height="10.6" fill="#111"/>
<path d="M413.4,460.5 H459.8 V476.4 H413.4 V471.65 A3.2,3.2 0 0 0 413.4,465.25 Z" fill="none" stroke="#333" stroke-width="1.2"/>
<rect x="420.75" y="451.6" width="2.1" height="7.4" fill="#1a1a1a"/>
<rect x="420.75" y="477.4" width="2.1" height="7.6" fill="#1a1a1a"/>
<rect x="424.17" y="451.6" width="2.1" height="7.4" fill="#1a1a1a"/>
<rect x="424.17" y="477.4" width="2.1" height="7.6" fill="#1a1a1a"/>
<rect x="427.59" y="451.6" width="2.1" height="7.4" fill="#1a1a1a"/>
<rect x="427.59" y="477.4" width="2.1" height="7.6" fill="#1a1a1a"/>
<rect x="431.02" y="451.6" width="2.1" height="7.4" fill="#1a1a1a"/>
<rect x="431.02" y="477.4" width="2.1" height="7.6" fill="#1a1a1a"/>
<rect x="434.44" y="451.6" width="2.1" height="7.4" fill="#1a1a1a"/>
<rect x="434.44" y="477.4" width="2.1" height="7.6" fill="#1a1a1a"/>
<rect x="437.86" y="451.6" width="2.1" height="7.4" fill="#1a1a1a"/>
<rect x="437.86" y="477.4" width="2.1" height="7.6" fill="#1a1a1a"/>
<rect x="441.28" y="451.6" width="2.1" height="7.4" fill="#1a1a1a"/>
<rect x="441.28" y="477.4" width="2.1" height="7.6" fill="#1a1a1a"/>
<rect x="444.71" y="451.6" width="2.1" height="7.4" fill="#1a1a1a"/>
<rect x="444.71" y="477.4" width="2.1" height="7.6" fill="#1a1a1a"/>
<rect x="448.13" y="451.6" width="2.1" height="7.4" fill="#1a1a1a"/>
<rect x="448.13" y="477.4" width="2.1" height="7.6" fill="#1a1a1a"/>
<rect x="451.55" y="451.6" width="2.1" height="7.4" fill="#1a1a1a"/>
<rect x="451.55" y="477.4" width="2.1" height="7.6" fill="#1a1a1a"/>
<rect x="412.4" y="474.4" width="2.2" height="10.6" fill="#111"/>
<path d="M470.6,460.5 H517 V476.4 H470.6 V471.65 A3.2,3.2 0 0 0 470.6,465.25 Z" fill="none" stroke="#333" stroke-width="1.2"/>
<rect x="477.95" y="451.6" width="2.1" height="7.4" fill="#1a1a1a"/>
<rect x="477.95" y="477.4" width="2.1" height="7.6" fill="#1a1a1a"/>
<rect x="481.37" y="451.6" width="2.1" height="7.4" fill="#1a1a1a"/>
<rect x="481.37" y="477.4" width="2.1" height="7.6" fill="#1a1a1a"/>
<rect x="484.79" y="451.6" width="2.1" height="7.4" fill="#1a1a1a"/>
<rect x="484.79" y="477.4" width="2.1" height="7.6" fill="#1a1a1a"/>
<rect x="488.22" y="451.6" width="2.1" height="7.4" fill="#1a1a1a"/>
<rect x="488.22" y="477.4" width="2.1" height="7.6" fill="#1a1a1a"/>
<rect x="491.64" y="451.6" width="2.1" height="7.4" fill="#1a1a1a"/>
<rect x="491.64" y="477.4" width="2.1" height="7.6" fill="#1a1a1a"/>
<rect x="495.06" y="451.6" width="2.1" height="7.4" fill="#1a1a1a"/>
<rect x="495.06" y="477.4" width="2.1" height="7.6" fill="#1a1a1a"/>
<rect x="498.48" y="451.6" width="2.1" height="7.4" fill="#1a1a1a"/>
<rect x="498.48" y="477.4" width="2.1" height="7.6" fill="#1a1a1a"/>
<rect x="501.91" y="451.6" width="2.1" height="7.4" fill="#1a1a1a"/>
<rect x="501.91" y="477.4" width="2.1" height="7.6" fill="#1a1a1a"/>
<rect x="505.33" y="451.6" width="2.1" height="7.4" fill="#1a1a1a"/>
<rect x="505.33" y="477.4" width="2.1" height="7.6" fill="#1a1a1a"/>
<rect x="508.75" y="451.6" width="2.1" height="7.4" fill="#1a1a1a"/>
<rect x="508.75" y="477.4" width="2.1" height="7.6" fill="#1a1a1a"/>
<rect x="469.6" y="474.4" width="2.2" height="10.6" fill="#111"/>
<path d="M527.9,460.5 H574.3 V476.4 H527.9 V471.65 A3.2,3.2 0 0 0 527.9,465.25 Z" fill="none" stroke="#333" stroke-width="1.2"/>
<rect x="535.25" y="451.6" width="2.1" height="7.4" fill="#1a1a1a"/>
<rect x="535.25" y="477.4" width="2.1" height="7.6" fill="#1a1a1a"/>
<rect x="538.67" y="451.6" width="2.1" height="7.4" fill="#1a1a1a"/>
<rect x="538.67" y="477.4" width="2.1" height="7.6" fill="#1a1a1a"/>
<rect x="542.09" y="451.6" width="2.1" height="7.4" fill="#1a1a1a"/>
<rect x="542.09" y="477.4" width="2.1" height="7.6" fill="#1a1a1a"/>
<rect x="545.52" y="451.6" width="2.1" height="7.4" fill="#1a1a1a"/>
<rect x="545.52" y="477.4" width="2.1" height="7.6" fill="#1a1a1a"/>
<rect x="548.94" y="451.6" width="2.1" height="7.4" fill="#1a1a1a"/>
<rect x="548.94" y="477.4" width="2.1" height="7.6" fill="#1a1a1a"/>
<rect x="552.36" y="451.6" width="2.1" height="7.4" fill="#1a1a1a"/>
<rect x="552.36" y="477.4" width="2.1" height="7.6" fill="#1a1a1a"/>
<rect x="555.78" y="451.6" width="2.1" height="7.4" fill="#1a1a1a"/>
<rect x="555.78" y="477.4" width="2.1" height="7.6" fill="#1a1a1a"/>
<rect x="559.21" y="451.6" width="2.1" height="7.4" fill="#1a1a1a"/>
<rect x="559.21" y="477.4" width="2.1" height="7.6" fill="#1a1a1a"/>
<rect x="562.63" y="451.6" width="2.1" height="7.4" fill="#1a1a1a"/>
<rect x="562.63" y="477.4" width="2.1" height="7.6" fill="#1a1a1a"/>
<rect x="566.05" y="451.6" width="2.1" height="7.4" fill="#1a1a1a"/>
<rect x="566.05" y="477.4" width="2.1" height="7.6" fill="#1a1a1a"/>
<rect x="526.9" y="474.4" width="2.2" height="10.6" fill="#111"/>
<path d="M585.2,460.5 H631.6 V476.4 H585.2 V471.65 A3.2,3.2 0 0 0 585.2,465.25 Z" fill="none" stroke="#333" stroke-width="1.2"/>
<rect x="592.55" y="451.6" width="2.1" height="7.4" fill="#1a1a1a"/>
<rect x="592.55" y="477.4" width="2.1" height="7.6" fill="#1a1a1a"/>
<rect x="595.97" y="451.6" width="2.1" height="7.4" fill="#1a1a1a"/>
<rect x="595.97" y="477.4" width="2.1" height="7.6" fill="#1a1a1a"/>
<rect x="599.39" y="451.6" width="2.1" height="7.4" fill="#1a1a1a"/>
<rect x="599.39" y="477.4" width="2.1" height="7.6" fill="#1a1a1a"/>
<rect x="602.82" y="451.6" width="2.1" height="7.4" fill="#1a1a1a"/>
<rect x="602.82" y="477.4" width="2.1" height="7.6" fill="#1a1a1a"/>
<rect x="606.24" y="451.6" width="2.1" height="7.4" fill="#1a1a1a"/>
<rect x="606.24" y="477.4" width="2.1" height="7.6" fill="#1a1a1a"/>
<rect x="609.66" y="451.6" width="2.1" height="7.4" fill="#1a1a1a"/>
<rect x="609.66" y="477.4" width="2.1" height="7.6" fill="#1a1a1a"/>
<rect x="613.08" y="451.6" width="2.1" height="7.4" fill="#1a1a1a"/>
<rect x="613.08" y="477.4" width="2.1" height="7.6" fill="#1a1a1a"/>
<rect x="616.51" y="451.6" width="2.1" height="7.4" fill="#1a1a1a"/>
<rect x="616.51" y="477.4" width="2.1" height="7.6" fill="#1a1a1a"/>
<rect x="619.93" y="451.6" width="2.1" height="7.4" fill="#1a1a1a"/>
<rect x="619.93" y="477.4" width="2.1" height="7.6" fill="#1a1a1a"/>
<rect x="623.35" y="451.6" width="2.1" height="7.4" fill="#1a1a1a"/>
<rect x="623.35" y="477.4" width="2.1" height="7.6" fill="#1a1a1a"/>
<rect x="584.2" y="474.4" width="2.2" height="10.6" fill="#111"/>
<rect x="559.8" y="128.2" width="62.5" height="8.4" fill="#a8a8a8"/>
<rect x="559.8" y="206" width="62.5" height="8.4" fill="#a8a8a8"/>
<rect x="548.4" y="140" width="7.3" height="62" fill="#a8a8a8"/>
<rect x="626" y="140" width="8.3" height="62" fill="#a8a8a8"/>
<rect x="560.25" y="128.2" width="1.5" height="8.4" fill="#111"/>
<rect x="563.58" y="128.2" width="1.5" height="8.4" fill="#111"/>
<rect x="566.92" y="128.2" width="1.5" height="8.4" fill="#111"/>
<rect x="570.25" y="128.2" width="1.5" height="8.4" fill="#111"/>
<rect x="573.58" y="128.2" width="1.5" height="8.4" fill="#111"/>
<rect x="576.92" y="128.2" width="1.5" height="8.4" fill="#111"/>
<rect x="580.25" y="128.2" width="1.5" height="8.4" fill="#111"/>
<rect x="583.58" y="128.2" width="1.5" height="8.4" fill="#111"/>
<rect x="586.92" y="128.2" width="1.5" height="8.4" fill="#111"/>
<rect x="590.25" y="128.2" width="1.5" height="8.4" fill="#111"/>
<rect x="593.58" y="128.2" width="1.5" height="8.4" fill="#111"/>
<rect x="596.92" y="128.2" width="1.5" height="8.4" fill="#111"/>
<rect x="600.25" y="128.2" width="1.5" height="8.4" fill="#111"/>
<rect x="603.58" y="128.2" width="1.5" height="8.4" fill="#111"/>
<rect x="606.92" y="128.2" width="1.5" height="8.4" fill="#111"/>
<rect x="610.25" y="128.2" width="1.5" height="8.4" fill="#111"/>
<rect x="613.58" y="128.2" width="1.5" height="8.4" fill="#111"/>
<rect x="616.92" y="128.2" width="1.5" height="8.4" fill="#111"/>
<rect x="620.25" y="128.2" width="1.5" height="8.4" fill="#111"/>
<rect x="560.25" y="206" width="1.5" height="8.4" fill="#111"/>
<rect x="563.58" y="206" width="1.5" height="8.4" fill="#111"/>
<rect x="566.92" y="206" width="1.5" height="8.4" fill="#111"/>
<rect x="570.25" y="206" width="1.5" height="8.4" fill="#111"/>
<rect x="573.58" y="206" width="1.5" height="8.4" fill="#111"/>
<rect x="576.92" y="206" width="1.5" height="8.4" fill="#111"/>
<rect x="580.25" y="206" width="1.5" height="8.4" fill="#111"/>
<rect x="583.58" y="206" width="1.5" height="8.4" fill="#111"/>
<rect x="586.92" y="206" width="1.5" height="8.4" fill="#111"/>
<rect x="590.25" y="206" width="1.5" height="8.4" fill="#111"/>
<rect x="593.58" y="206" width="1.5" height="8.4" fill="#111"/>
<rect x="596.92" y="206" width="1.5" height="8.4" fill="#111"/>
<rect x="600.25" y="206" width="1.5" height="8.4" fill="#111"/>
<rect x="603.58" y="206" width="1.5" height="8.4" fill="#111"/>
<rect x="606.92" y="206" width="1.5" height="8.4" fill="#111"/>
<rect x="610.25" y="206" width="1.5" height="8.4" fill="#111"/>
<rect x="613.58" y="206" width="1.5" height="8.4" fill="#111"/>
<rect x="616.92" y="206" width="1.5" height="8.4" fill="#111"/>
<rect x="620.25" y="206" width="1.5" height="8.4" fill="#111"/>
<rect x="548.4" y="140.55" width="7.3" height="1.5" fill="#111"/>
<rect x="548.4" y="143.85" width="7.3" height="1.5" fill="#111"/>
<rect x="548.4" y="147.15" width="7.3" height="1.5" fill="#111"/>
<rect x="548.4" y="150.45" width="7.3" height="1.5" fill="#111"/>
<rect x="548.4" y="153.75" width="7.3" height="1.5" fill="#111"/>
<rect x="548.4" y="157.05" width="7.3" height="1.5" fill="#111"/>
<rect x="548.4" y="160.35" width="7.3" height="1.5" fill="#111"/>
<rect x="548.4" y="163.65" width="7.3" height="1.5" fill="#111"/>
<rect x="548.4" y="166.95" width="7.3" height="1.5" fill="#111"/>
<rect x="548.4" y="170.25" width="7.3" height="1.5" fill="#111"/>
<rect x="548.4" y="173.55" width="7.3" height="1.5" fill="#111"/>
<rect x="548.4" y="176.85" width="7.3" height="1.5" fill="#111"/>
<rect x="548.4" y="180.15" width="7.3" height="1.5" fill="#111"/>
<rect x="548.4" y="183.45" width="7.3" height="1.5" fill="#111"/>
<rect x="548.4" y="186.75" width="7.3" height="1.5" fill="#111"/>
<rect x="548.4" y="190.05" width="7.3" height="1.5" fill="#111"/>
<rect x="548.4" y="193.35" width="7.3" height="1.5" fill="#111"/>
<rect x="548.4" y="196.65" width="7.3" height="1.5" fill="#111"/>
<rect x="548.4" y="199.95" width="7.3" height="1.5" fill="#111"/>
<rect x="626" y="140.55" width="8.3" height="1.5" fill="#111"/>
<rect x="626" y="143.85" width="8.3" height="1.5" fill="#111"/>
<rect x="626" y="147.15" width="8.3" height="1.5" fill="#111"/>
<rect x="626" y="150.45" width="8.3" height="1.5" fill="#111"/>
<rect x="626" y="153.75" width="8.3" height="1.5" fill="#111"/>
<rect x="626" y="157.05" width="8.3" height="1.5" fill="#111"/>
<rect x="626" y="160.35" width="8.3" height="1.5" fill="#111"/>
<rect x="626" y="163.65" width="8.3" height="1.5" fill="#111"/>
<rect x="626" y="166.95" width="8.3" height="1.5" fill="#111"/>
<rect x="626" y="170.25" width="8.3" height="1.5" fill="#111"/>
<rect x="626" y="173.55" width="8.3" height="1.5" fill="#111"/>
<rect x="626" y="176.85" width="8.3" height="1.5" fill="#111"/>
<rect x="626" y="180.15" width="8.3" height="1.5" fill="#111"/>
<rect x="626" y="183.45" width="8.3" height="1.5" fill="#111"/>
<rect x="626" y="186.75" width="8.3" height="1.5" fill="#111"/>
<rect x="626" y="190.05" width="8.3" height="1.5" fill="#111"/>
<rect x="626" y="193.35" width="8.3" height="1.5" fill="#111"/>
<rect x="626" y="196.65" width="8.3" height="1.5" fill="#111"/>
<rect x="626" y="199.95" width="8.3" height="1.5" fill="#111"/>
<rect x="561" y="124" width="1.2" height="2.5" fill="#444"/>
<rect x="572.9" y="124" width="1.2" height="2.5" fill="#444"/>
<rect x="585.7" y="124" width="1.2" height="2.5" fill="#444"/>
<rect x="598" y="124" width="1.2" height="2.5" fill="#444"/>
<rect x="610.8" y="124" width="1.2" height="2.5" fill="#444"/>
<polygon points="619.8,123.8 623.8,123.8 621.8,127" fill="#333"/>
<rect x="543" y="153" width="4" height="0.9" fill="#888"/>
<rect x="543" y="178" width="4" height="0.9" fill="#888"/>
<rect x="543" y="203" width="4" height="0.9" fill="#888"/>
<rect x="635.5" y="147" width="3" height="0.9" fill="#888"/>
<rect x="635.5" y="172" width="3" height="0.9" fill="#888"/>
<rect x="635.5" y="197" width="3" height="0.9" fill="#888"/>
<polygon points="623.9,127.6 635.3,127.6 635.3,137.9" fill="#111"/>
<path d="M547.4,205 V214.4 H556.7" fill="none" stroke="#999" stroke-width="1"/>
<rect x="360.2" y="259.5" width="129" height="13.4" fill="#a8a8a8"/>
<rect x="360.2" y="412.4" width="129" height="12.2" fill="#a8a8a8"/>
<rect x="343.5" y="278.3" width="10.8" height="128.7" fill="#a8a8a8"/>
<rect x="494.6" y="278.3" width="10.8" height="128.7" fill="#a8a8a8"/>
<rect x="360.25" y="259.5" width="1.5" height="13.4" fill="#111"/>
<rect x="363.44" y="259.5" width="1.5" height="13.4" fill="#111"/>
<rect x="366.62" y="259.5" width="1.5" height="13.4" fill="#111"/>
<rect x="369.81" y="259.5" width="1.5" height="13.4" fill="#111"/>
<rect x="373" y="259.5" width="1.5" height="13.4" fill="#111"/>
<rect x="376.19" y="259.5" width="1.5" height="13.4" fill="#111"/>
<rect x="379.38" y="259.5" width="1.5" height="13.4" fill="#111"/>
<rect x="382.56" y="259.5" width="1.5" height="13.4" fill="#111"/>
<rect x="385.75" y="259.5" width="1.5" height="13.4" fill="#111"/>
<rect x="388.94" y="259.5" width="1.5" height="13.4" fill="#111"/>
<rect x="392.12" y="259.5" width="1.5" height="13.4" fill="#111"/>
<rect x="395.31" y="259.5" width="1.5" height="13.4" fill="#111"/>
<rect x="398.5" y="259.5" width="1.5" height="13.4" fill="#111"/>
<rect x="401.69" y="259.5" width="1.5" height="13.4" fill="#111"/>
<rect x="404.88" y="259.5" width="1.5" height="13.4" fill="#111"/>
<rect x="408.06" y="259.5" width="1.5" height="13.4" fill="#111"/>
<rect x="411.25" y="259.5" width="1.5" height="13.4" fill="#111"/>
<rect x="414.44" y="259.5" width="1.5" height="13.4" fill="#111"/>
<rect x="417.62" y="259.5" width="1.5" height="13.4" fill="#111"/>
<rect x="420.81" y="259.5" width="1.5" height="13.4" fill="#111"/>
<rect x="424" y="259.5" width="1.5" height="13.4" fill="#111"/>
<rect x="427.19" y="259.5" width="1.5" height="13.4" fill="#111"/>
<rect x="430.38" y="259.5" width="1.5" height="13.4" fill="#111"/>
<rect x="433.56" y="259.5" width="1.5" height="13.4" fill="#111"/>
<rect x="436.75" y="259.5" width="1.5" height="13.4" fill="#111"/>
<rect x="439.94" y="259.5" width="1.5" height="13.4" fill="#111"/>
<rect x="443.12" y="259.5" width="1.5" height="13.4" fill="#111"/>
<rect x="446.31" y="259.5" width="1.5" height="13.4" fill="#111"/>
<rect x="449.5" y="259.5" width="1.5" height="13.4" fill="#111"/>
<rect x="452.69" y="259.5" width="1.5" height="13.4" fill="#111"/>
<rect x="455.88" y="259.5" width="1.5" height="13.4" fill="#111"/>
<rect x="459.06" y="259.5" width="1.5" height="13.4" fill="#111"/>
<rect x="462.25" y="259.5" width="1.5" height="13.4" fill="#111"/>
<rect x="465.44" y="259.5" width="1.5" height="13.4" fill="#111"/>
<rect x="468.62" y="259.5" width="1.5" height="13.4" fill="#111"/>
<rect x="471.81" y="259.5" width="1.5" height="13.4" fill="#111"/>
<rect x="475" y="259.5" width="1.5" height="13.4" fill="#111"/>
<rect x="478.19" y="259.5" width="1.5" height="13.4" fill="#111"/>
<rect x="481.38" y="259.5" width="1.5" height="13.4" fill="#111"/>
<rect x="484.56" y="259.5" width="1.5" height="13.4" fill="#111"/>
<rect x="487.75" y="259.5" width="1.5" height="13.4" fill="#111"/>
<rect x="360.25" y="412.4" width="1.5" height="12.2" fill="#111"/>
<rect x="363.44" y="412.4" width="1.5" height="12.2" fill="#111"/>
<rect x="366.62" y="412.4" width="1.5" height="12.2" fill="#111"/>
<rect x="369.81" y="412.4" width="1.5" height="12.2" fill="#111"/>
<rect x="373" y="412.4" width="1.5" height="12.2" fill="#111"/>
<rect x="376.19" y="412.4" width="1.5" height="12.2" fill="#111"/>
<rect x="379.38" y="412.4" width="1.5" height="12.2" fill="#111"/>
<rect x="382.56" y="412.4" width="1.5" height="12.2" fill="#111"/>
<rect x="385.75" y="412.4" width="1.5" height="12.2" fill="#111"/>
<rect x="388.94" y="412.4" width="1.5" height="12.2" fill="#111"/>
<rect x="392.12" y="412.4" width="1.5" height="12.2" fill="#111"/>
<rect x="395.31" y="412.4" width="1.5" height="12.2" fill="#111"/>
<rect x="398.5" y="412.4" width="1.5" height="12.2" fill="#111"/>
<rect x="401.69" y="412.4" width="1.5" height="12.2" fill="#111"/>
<rect x="404.88" y="412.4" width="1.5" height="12.2" fill="#111"/>
<rect x="408.06" y="412.4" width="1.5" height="12.2" fill="#111"/>
<rect x="411.25" y="412.4" width="1.5" height="12.2" fill="#111"/>
<rect x="414.44" y="412.4" width="1.5" height="12.2" fill="#111"/>
<rect x="417.62" y="412.4" width="1.5" height="12.2" fill="#111"/>
<rect x="420.81" y="412.4" width="1.5" height="12.2" fill="#111"/>
<rect x="424" y="412.4" width="1.5" height="12.2" fill="#111"/>
<rect x="427.19" y="412.4" width="1.5" height="12.2" fill="#111"/>
<rect x="430.38" y="412.4" width="1.5" height="12.2" fill="#111"/>
<rect x="433.56" y="412.4" width="1.5" height="12.2" fill="#111"/>
<rect x="436.75" y="412.4" width="1.5" height="12.2" fill="#111"/>
<rect x="439.94" y="412.4" width="1.5" height="12.2" fill="#111"/>
<rect x="443.12" y="412.4" width="1.5" height="12.2" fill="#111"/>
<rect x="446.31" y="412.4" width="1.5" height="12.2" fill="#111"/>
<rect x="449.5" y="412.4" width="1.5" height="12.2" fill="#111"/>
<rect x="452.69" y="412.4" width="1.5" height="12.2" fill="#111"/>
<rect x="455.88" y="412.4" width="1.5" height="12.2" fill="#111"/>
<rect x="459.06" y="412.4" width="1.5" height="12.2" fill="#111"/>
<rect x="462.25" y="412.4" width="1.5" height="12.2" fill="#111"/>
<rect x="465.44" y="412.4" width="1.5" height="12.2" fill="#111"/>
<rect x="468.62" y="412.4" width="1.5" height="12.2" fill="#111"/>
<rect x="471.81" y="412.4" width="1.5" height="12.2" fill="#111"/>
<rect x="475" y="412.4" width="1.5" height="12.2" fill="#111"/>
<rect x="478.19" y="412.4" width="1.5" height="12.2" fill="#111"/>
<rect x="481.38" y="412.4" width="1.5" height="12.2" fill="#111"/>
<rect x="484.56" y="412.4" width="1.5" height="12.2" fill="#111"/>
<rect x="487.75" y="412.4" width="1.5" height="12.2" fill="#111"/>
<rect x="343.5" y="278.25" width="10.8" height="1.5" fill="#111"/>
<rect x="343.5" y="281.43" width="10.8" height="1.5" fill="#111"/>
<rect x="343.5" y="284.62" width="10.8" height="1.5" fill="#111"/>
<rect x="343.5" y="287.8" width="10.8" height="1.5" fill="#111"/>
<rect x="343.5" y="290.98" width="10.8" height="1.5" fill="#111"/>
<rect x="343.5" y="294.16" width="10.8" height="1.5" fill="#111"/>
<rect x="343.5" y="297.35" width="10.8" height="1.5" fill="#111"/>
<rect x="343.5" y="300.53" width="10.8" height="1.5" fill="#111"/>
<rect x="343.5" y="303.71" width="10.8" height="1.5" fill="#111"/>
<rect x="343.5" y="306.89" width="10.8" height="1.5" fill="#111"/>
<rect x="343.5" y="310.07" width="10.8" height="1.5" fill="#111"/>
<rect x="343.5" y="313.26" width="10.8" height="1.5" fill="#111"/>
<rect x="343.5" y="316.44" width="10.8" height="1.5" fill="#111"/>
<rect x="343.5" y="319.62" width="10.8" height="1.5" fill="#111"/>
<rect x="343.5" y="322.81" width="10.8" height="1.5" fill="#111"/>
<rect x="343.5" y="325.99" width="10.8" height="1.5" fill="#111"/>
<rect x="343.5" y="329.17" width="10.8" height="1.5" fill="#111"/>
<rect x="343.5" y="332.35" width="10.8" height="1.5" fill="#111"/>
<rect x="343.5" y="335.54" width="10.8" height="1.5" fill="#111"/>
<rect x="343.5" y="338.72" width="10.8" height="1.5" fill="#111"/>
<rect x="343.5" y="341.9" width="10.8" height="1.5" fill="#111"/>
<rect x="343.5" y="345.08" width="10.8" height="1.5" fill="#111"/>
<rect x="343.5" y="348.26" width="10.8" height="1.5" fill="#111"/>
<rect x="343.5" y="351.45" width="10.8" height="1.5" fill="#111"/>
<rect x="343.5" y="354.63" width="10.8" height="1.5" fill="#111"/>
<rect x="343.5" y="357.81" width="10.8" height="1.5" fill="#111"/>
<rect x="343.5" y="361" width="10.8" height="1.5" fill="#111"/>
<rect x="343.5" y="364.18" width="10.8" height="1.5" fill="#111"/>
<rect x="343.5" y="367.36" width="10.8" height="1.5" fill="#111"/>
<rect x="343.5" y="370.54" width="10.8" height="1.5" fill="#111"/>
<rect x="343.5" y="373.73" width="10.8" height="1.5" fill="#111"/>
<rect x="343.5" y="376.91" width="10.8" height="1.5" fill="#111"/>
<rect x="343.5" y="380.09" width="10.8" height="1.5" fill="#111"/>
<rect x="343.5" y="383.27" width="10.8" height="1.5" fill="#111"/>
<rect x="343.5" y="386.45" width="10.8" height="1.5" fill="#111"/>
<rect x="343.5" y="389.64" width="10.8" height="1.5" fill="#111"/>
<rect x="343.5" y="392.82" width="10.8" height="1.5" fill="#111"/>
<rect x="343.5" y="396" width="10.8" height="1.5" fill="#111"/>
<rect x="343.5" y="399.19" width="10.8" height="1.5" fill="#111"/>
<rect x="343.5" y="402.37" width="10.8" height="1.5" fill="#111"/>
<rect x="343.5" y="405.55" width="10.8" height="1.5" fill="#111"/>
<rect x="494.6" y="278.25" width="10.8" height="1.5" fill="#111"/>
<rect x="494.6" y="281.43" width="10.8" height="1.5" fill="#111"/>
<rect x="494.6" y="284.62" width="10.8" height="1.5" fill="#111"/>
<rect x="494.6" y="287.8" width="10.8" height="1.5" fill="#111"/>
<rect x="494.6" y="290.98" width="10.8" height="1.5" fill="#111"/>
<rect x="494.6" y="294.16" width="10.8" height="1.5" fill="#111"/>
<rect x="494.6" y="297.35" width="10.8" height="1.5" fill="#111"/>
<rect x="494.6" y="300.53" width="10.8" height="1.5" fill="#111"/>
<rect x="494.6" y="303.71" width="10.8" height="1.5" fill="#111"/>
<rect x="494.6" y="306.89" width="10.8" height="1.5" fill="#111"/>
<rect x="494.6" y="310.07" width="10.8" height="1.5" fill="#111"/>
<rect x="494.6" y="313.26" width="10.8" height="1.5" fill="#111"/>
<rect x="494.6" y="316.44" width="10.8" height="1.5" fill="#111"/>
<rect x="494.6" y="319.62" width="10.8" height="1.5" fill="#111"/>
<rect x="494.6" y="322.81" width="10.8" height="1.5" fill="#111"/>
<rect x="494.6" y="325.99" width="10.8" height="1.5" fill="#111"/>
<rect x="494.6" y="329.17" width="10.8" height="1.5" fill="#111"/>
<rect x="494.6" y="332.35" width="10.8" height="1.5" fill="#111"/>
<rect x="494.6" y="335.54" width="10.8" height="1.5" fill="#111"/>
<rect x="494.6" y="338.72" width="10.8" height="1.5" fill="#111"/>
<rect x="494.6" y="341.9" width="10.8" height="1.5" fill="#111"/>
<rect x="494.6" y="345.08" width="10.8" height="1.5" fill="#111"/>
<rect x="494.6" y="348.26" width="10.8" height="1.5" fill="#111"/>
<rect x="494.6" y="351.45" width="10.8" height="1.5" fill="#111"/>
<rect x="494.6" y="354.63" width="10.8" height="1.5" fill="#111"/>
<rect x="494.6" y="357.81" width="10.8" height="1.5" fill="#111"/>
<rect x="494.6" y="361" width="10.8" height="1.5" fill="#111"/>
<rect x="494.6" y="364.18" width="10.8" height="1.5" fill="#111"/>
<rect x="494.6" y="367.36" width="10.8" height="1.5" fill="#111"/>
<rect x="494.6" y="370.54" width="10.8" height="1.5" fill="#111"/>
<rect x="494.6" y="373.73" width="10.8" height="1.5" fill="#111"/>
<rect x="494.6" y="376.91" width="10.8" height="1.5" fill="#111"/>
<rect x="494.6" y="380.09" width="10.8" height="1.5" fill="#111"/>
<rect x="494.6" y="383.27" width="10.8" height="1.5" fill="#111"/>
<rect x="494.6" y="386.45" width="10.8" height="1.5" fill="#111"/>
<rect x="494.6" y="389.64" width="10.8" height="1.5" fill="#111"/>
<rect x="494.6" y="392.82" width="10.8" height="1.5" fill="#111"/>
<rect x="494.6" y="396" width="10.8" height="1.5" fill="#111"/>
<rect x="494.6" y="399.19" width="10.8" height="1.5" fill="#111"/>
<rect x="494.6" y="402.37" width="10.8" height="1.5" fill="#111"/>
<rect x="494.6" y="405.55" width="10.8" height="1.5" fill="#111"/>
<rect x="363" y="256" width="0.9" height="3" fill="#777"/>
<rect x="369" y="425" width="0.9" height="3" fill="#777"/>
<rect x="379" y="256" width="0.9" height="3" fill="#777"/>
<rect x="385" y="425" width="0.9" height="3" fill="#777"/>
<rect x="395" y="256" width="0.9" height="3" fill="#777"/>
<rect x="401" y="425" width="0.9" height="3" fill="#777"/>
<rect x="411" y="256" width="0.9" height="3" fill="#777"/>
<rect x="417" y="425" width="0.9" height="3" fill="#777"/>
<rect x="427" y="256" width="0.9" height="3" fill="#777"/>
<rect x="433" y="425" width="0.9" height="3" fill="#777"/>
<rect x="443" y="256" width="0.9" height="3" fill="#777"/>
<rect x="449" y="425" width="0.9" height="3" fill="#777"/>
<rect x="459" y="256" width="0.9" height="3" fill="#777"/>
<rect x="465" y="425" width="0.9" height="3" fill="#777"/>
<rect x="475" y="256" width="0.9" height="3" fill="#777"/>
<rect x="481" y="425" width="0.9" height="3" fill="#777"/>
<rect x="340.5" y="292" width="3" height="0.9" fill="#777"/>
<rect x="505.5" y="286" width="3" height="0.9" fill="#777"/>
<rect x="340.5" y="308" width="3" height="0.9" fill="#777"/>
<rect x="505.5" y="302" width="3" height="0.9" fill="#777"/>
<rect x="340.5" y="324" width="3" height="0.9" fill="#777"/>
<rect x="505.5" y="318" width="3" height="0.9" fill="#777"/>
<rect x="340.5" y="340" width="3" height="0.9" fill="#777"/>
<rect x="505.5" y="334" width="3" height="0.9" fill="#777"/>
<rect x="340.5" y="356" width="3" height="0.9" fill="#777"/>
<rect x="505.5" y="350" width="3" height="0.9" fill="#777"/>
<rect x="340.5" y="372" width="3" height="0.9" fill="#777"/>
<rect x="505.5" y="366" width="3" height="0.9" fill="#777"/>
<rect x="340.5" y="388" width="3" height="0.9" fill="#777"/>
<rect x="505.5" y="382" width="3" height="0.9" fill="#777"/>
<rect x="340.5" y="404" width="3" height="0.9" fill="#777"/>
<rect x="505.5" y="398" width="3" height="0.9" fill="#777"/>
<circle cx="347.6" cy="265.3" r="5.3" fill="none" stroke="#111" stroke-width="1.6"/>
<circle cx="500" cy="414.7" r="5.3" fill="none" stroke="#111" stroke-width="1.6"/>
<polygon points="341.7,410.2 341.7,425.9 357.5,425.9" fill="#111"/>
<path d="M491,260.6 H506.8 V275.2" fill="none" stroke="#999" stroke-width="1.2"/>
<rect x="269.4" y="367.9" width="36" height="66.2" fill="none" stroke="#333" stroke-width="1.2"/>
<path d="M284.6,367.9 V371 Q284.6,373.5 287.1,373.5 Q289.6,373.5 289.6,371 V367.9" fill="none" stroke="#333" stroke-width="1.2"/>
<rect x="260.1" y="370.75" width="8.6" height="2.9" fill="#111"/>
<rect x="306.1" y="370.75" width="8.7" height="2.9" fill="#111"/>
<rect x="260.1" y="377.15" width="8.6" height="2.9" fill="#111"/>
<rect x="306.1" y="377.15" width="8.7" height="2.9" fill="#111"/>
<rect x="260.1" y="383.55" width="8.6" height="2.9" fill="#111"/>
<rect x="306.1" y="383.55" width="8.7" height="2.9" fill="#111"/>
<rect x="260.1" y="389.95" width="8.6" height="2.9" fill="#111"/>
<rect x="306.1" y="389.95" width="8.7" height="2.9" fill="#111"/>
<rect x="260.1" y="396.35" width="8.6" height="2.9" fill="#111"/>
<rect x="306.1" y="396.35" width="8.7" height="2.9" fill="#111"/>
<rect x="260.1" y="402.75" width="8.6" height="2.9" fill="#111"/>
<rect x="306.1" y="402.75" width="8.7" height="2.9" fill="#111"/>
<rect x="260.1" y="409.15" width="8.6" height="2.9" fill="#111"/>
<rect x="306.1" y="409.15" width="8.7" height="2.9" fill="#111"/>
<rect x="260.1" y="415.55" width="8.6" height="2.9" fill="#111"/>
<rect x="306.1" y="415.55" width="8.7" height="2.9" fill="#111"/>
<rect x="260.1" y="421.95" width="8.6" height="2.9" fill="#111"/>
<rect x="306.1" y="421.95" width="8.7" height="2.9" fill="#111"/>
<rect x="260.1" y="428.35" width="8.6" height="2.9" fill="#111"/>
<rect x="306.1" y="428.35" width="8.7" height="2.9" fill="#111"/>
<rect x="260.1" y="366.5" width="8.6" height="1.8" fill="#111"/>
<rect x="671.1" y="93.6" width="18.1" height="18.9" fill="none" stroke="#333" stroke-width="1.2"/>
<path d="M676.8,93.6 V96.6 Q676.8,99.8 680.2,99.8 Q683.6,99.8 683.6,96.6 V93.6" fill="none" stroke="#333" stroke-width="1.3"/>
<rect x="661.3" y="98.2" width="8.2" height="2.8" fill="#111"/>
<rect x="691.5" y="98.2" width="8.2" height="2.8" fill="#111"/>
<rect x="661.3" y="104.4" width="8.2" height="2.8" fill="#111"/>
<rect x="691.5" y="104.4" width="8.2" height="2.8" fill="#111"/>
<line x1="663.5" y1="94.1" x2="671" y2="95.1" stroke="#111" stroke-width="1.6"/>
<rect x="671.1" y="112.5" width="18.1" height="18.9" fill="none" stroke="#333" stroke-width="1.2"/>
<path d="M676.8,112.5 V115.5 Q676.8,118.7 680.2,118.7 Q683.6,118.7 683.6,115.5 V112.5" fill="none" stroke="#333" stroke-width="1.3"/>
<rect x="661.3" y="117.1" width="8.2" height="2.8" fill="#111"/>
<rect x="691.5" y="117.1" width="8.2" height="2.8" fill="#111"/>
<rect x="661.3" y="123.3" width="8.2" height="2.8" fill="#111"/>
<rect x="691.5" y="123.3" width="8.2" height="2.8" fill="#111"/>
<line x1="663.5" y1="113" x2="671" y2="114" stroke="#111" stroke-width="1.6"/>
<rect x="671.1" y="131.4" width="18.1" height="18.9" fill="none" stroke="#333" stroke-width="1.2"/>
<path d="M676.8,131.4 V134.4 Q676.8,137.6 680.2,137.6 Q683.6,137.6 683.6,134.4 V131.4" fill="none" stroke="#333" stroke-width="1.3"/>
<rect x="661.3" y="136" width="8.2" height="2.8" fill="#111"/>
<rect x="691.5" y="136" width="8.2" height="2.8" fill="#111"/>
<rect x="661.3" y="142.2" width="8.2" height="2.8" fill="#111"/>
<rect x="691.5" y="142.2" width="8.2" height="2.8" fill="#111"/>
<line x1="663.5" y1="131.9" x2="671" y2="132.9" stroke="#111" stroke-width="1.6"/>
<path d="M200.4,404.9 H221.2 V420.6 H213.8 A3,3 0 0 0 207.8,420.6 H200.4 Z" fill="none" stroke="#333" stroke-width="1.2"/>
<rect x="191.8" y="408.1" width="8.2" height="2.8" fill="#111"/>
<rect x="221.7" y="408.1" width="8.6" height="2.8" fill="#111"/>
<rect x="191.8" y="415" width="8.2" height="2.8" fill="#111"/>
<rect x="221.7" y="415" width="8.6" height="2.8" fill="#111"/>
<path d="M200.4,425.1 H221.2 V440.8 H213.8 A3,3 0 0 0 207.8,440.8 H200.4 Z" fill="none" stroke="#333" stroke-width="1.2"/>
<rect x="191.8" y="428.3" width="8.2" height="2.8" fill="#111"/>
<rect x="221.7" y="428.3" width="8.6" height="2.8" fill="#111"/>
<rect x="191.8" y="435.2" width="8.2" height="2.8" fill="#111"/>
<rect x="221.7" y="435.2" width="8.6" height="2.8" fill="#111"/>
<path d="M200.4,445.3 H221.2 V461 H213.8 A3,3 0 0 0 207.8,461 H200.4 Z" fill="none" stroke="#333" stroke-width="1.2"/>
<rect x="191.8" y="448.5" width="8.2" height="2.8" fill="#111"/>
<rect x="221.7" y="448.5" width="8.6" height="2.8" fill="#111"/>
<rect x="191.8" y="455.4" width="8.2" height="2.8" fill="#111"/>
<rect x="221.7" y="455.4" width="8.6" height="2.8" fill="#111"/>
<path d="M200.4,465.5 H221.2 V481.2 H213.8 A3,3 0 0 0 207.8,481.2 H200.4 Z" fill="none" stroke="#333" stroke-width="1.2"/>
<rect x="191.8" y="468.7" width="8.2" height="2.8" fill="#111"/>
<rect x="221.7" y="468.7" width="8.6" height="2.8" fill="#111"/>
<rect x="191.8" y="475.6" width="8.2" height="2.8" fill="#111"/>
<rect x="221.7" y="475.6" width="8.6" height="2.8" fill="#111"/>
<rect x="721.7" y="22.9" width="161.9" height="104.6" fill="none" stroke="#808080" stroke-width="1.4"/>
<polygon points="748.63,37.74 746.74,39.63 744.06,39.63 742.17,37.74 742.17,35.06 744.06,33.17 746.74,33.17 748.63,35.06" fill="none" stroke="#111" stroke-width="1.7" stroke-linejoin="round"/>
<polygon points="748.63,113.94 746.74,115.83 744.06,115.83 742.17,113.94 742.17,111.26 744.06,109.37 746.74,109.37 748.63,111.26" fill="none" stroke="#111" stroke-width="1.7" stroke-linejoin="round"/>
<polygon points="773.63,37.74 771.74,39.63 769.06,39.63 767.17,37.74 767.17,35.06 769.06,33.17 771.74,33.17 773.63,35.06" fill="none" stroke="#111" stroke-width="1.7" stroke-linejoin="round"/>
<polygon points="773.63,113.94 771.74,115.83 769.06,115.83 767.17,113.94 767.17,111.26 769.06,109.37 771.74,109.37 773.63,111.26" fill="none" stroke="#111" stroke-width="1.7" stroke-linejoin="round"/>
<polygon points="848.93,37.74 847.04,39.63 844.36,39.63 842.47,37.74 842.47,35.06 844.36,33.17 847.04,33.17 848.93,35.06" fill="none" stroke="#111" stroke-width="1.7" stroke-linejoin="round"/>
<polygon points="848.93,113.94 847.04,115.83 844.36,115.83 842.47,113.94 842.47,111.26 844.36,109.37 847.04,109.37 848.93,111.26" fill="none" stroke="#111" stroke-width="1.7" stroke-linejoin="round"/>
<polygon points="863.23,37.74 861.34,39.63 858.66,39.63 856.77,37.74 856.77,35.06 858.66,33.17 861.34,33.17 863.23,35.06" fill="none" stroke="#111" stroke-width="1.7" stroke-linejoin="round"/>
<polygon points="863.23,113.94 861.34,115.83 858.66,115.83 856.77,113.94 856.77,111.26 858.66,109.37 861.34,109.37 863.23,111.26" fill="none" stroke="#111" stroke-width="1.7" stroke-linejoin="round"/>
<rect x="882.5" y="33" width="2.6" height="8.5" fill="#111"/>
<rect x="721.3" y="235.8" width="130" height="256.5" fill="none" stroke="#808080" stroke-width="1.4"/>
<polygon points="738.48,315.01 736.21,317.28 732.99,317.28 730.72,315.01 730.72,311.79 732.99,309.52 736.21,309.52 738.48,311.79" fill="none" stroke="#111" stroke-width="1.8" stroke-linejoin="round"/>
<polygon points="789.48,315.01 787.21,317.28 783.99,317.28 781.72,315.01 781.72,311.79 783.99,309.52 787.21,309.52 789.48,311.79" fill="none" stroke="#111" stroke-width="1.8" stroke-linejoin="round"/>
<polygon points="840.88,315.01 838.61,317.28 835.39,317.28 833.12,315.01 833.12,311.79 835.39,309.52 838.61,309.52 840.88,311.79" fill="none" stroke="#111" stroke-width="1.8" stroke-linejoin="round"/>
<ellipse cx="773" cy="415.6" rx="3.3" ry="4.4" fill="none" stroke="#111" stroke-width="1.5"/>
<rect x="793" y="410.1" width="11" height="11" fill="#bbb" stroke="#888" stroke-width="1.2"/>
<rect x="795.25" y="412.35" width="6.5" height="6.5" fill="#111"/>
<rect x="849.5" y="409.2" width="2.8" height="11.8" fill="#111"/>
<rect x="597.7" y="373.8" width="120.1" height="39.4" fill="#111"/>
<line x1="600" y1="375.5" x2="716" y2="411.5" stroke="#999" stroke-width="1" stroke-dasharray="2.5,2.5"/>
<text x="569.5" y="388.3" font-family="Liberation Sans" font-size="12.5" fill="#444" font-weight="bold" text-anchor="start" textLength="26" lengthAdjust="spacing">S/N</text>
<path d="M617.6,241.2 A12.6,12.6 0 1 0 617.6,266.4" fill="none" stroke="#111" stroke-width="6.3"/>
<path d="M641.9,241.2 A12.6,12.6 0 1 0 641.9,266.4" fill="none" stroke="#111" stroke-width="6.3"/>
<rect x="629" y="251.1" width="12.8" height="5.9" fill="#111"/>
<polygon points="443.1,190.9 432.2,221.3 446,217 462,222" fill="#111"/>
<text x="460.5" y="208.3" font-family="Liberation Sans" font-size="11" fill="#111" font-weight="bold" text-anchor="start" textLength="68" lengthAdjust="spacingAndGlyphs" stroke="#111" stroke-width="0.6">ADLINK</text>
<text x="461" y="215.5" font-family="Liberation Sans" font-size="6" fill="#111" font-weight="bold" text-anchor="start" textLength="67" lengthAdjust="spacingAndGlyphs" stroke="#111" stroke-width="0.7">TECHNOLOGY INC.</text>
<circle cx="535.9" cy="210.4" r="4.8" fill="none" stroke="#111" stroke-width="1.6"/>
<rect x="220" y="509.5" width="69.6" height="20.5" fill="#8a8a8a"/>
<rect x="220.4" y="509.5" width="5.23" height="21.5" fill="#121212"/>
<path d="M222.01,512 L224.01,516 L222.21,521 L223.81,526" stroke="#777" stroke-width="0.8" fill="none"/>
<circle cx="223.01" cy="532.8" r="1.2" fill="#111" stroke="none" stroke-width="0"/>
<rect x="226.73" y="509.5" width="5.23" height="21.5" fill="#121212"/>
<path d="M228.34,512 L230.34,516 L228.54,521 L230.14,526" stroke="#777" stroke-width="0.8" fill="none"/>
<circle cx="229.34" cy="532.8" r="1.2" fill="#111" stroke="none" stroke-width="0"/>
<rect x="233.05" y="509.5" width="5.23" height="21.5" fill="#121212"/>
<path d="M234.67,512 L236.67,516 L234.87,521 L236.47,526" stroke="#777" stroke-width="0.8" fill="none"/>
<circle cx="235.67" cy="532.8" r="1.2" fill="#111" stroke="none" stroke-width="0"/>
<rect x="239.38" y="509.5" width="5.23" height="21.5" fill="#121212"/>
<path d="M241,512 L243,516 L241.2,521 L242.8,526" stroke="#777" stroke-width="0.8" fill="none"/>
<circle cx="242" cy="532.8" r="1.2" fill="#111" stroke="none" stroke-width="0"/>
<rect x="245.71" y="509.5" width="5.23" height="21.5" fill="#121212"/>
<path d="M247.32,512 L249.32,516 L247.52,521 L249.12,526" stroke="#777" stroke-width="0.8" fill="none"/>
<circle cx="248.32" cy="532.8" r="1.2" fill="#111" stroke="none" stroke-width="0"/>
<rect x="252.04" y="509.5" width="5.23" height="21.5" fill="#121212"/>
<path d="M253.65,512 L255.65,516 L253.85,521 L255.45,526" stroke="#777" stroke-width="0.8" fill="none"/>
<circle cx="254.65" cy="532.8" r="1.2" fill="#111" stroke="none" stroke-width="0"/>
<rect x="258.36" y="509.5" width="5.23" height="21.5" fill="#121212"/>
<path d="M259.98,512 L261.98,516 L260.18,521 L261.78,526" stroke="#777" stroke-width="0.8" fill="none"/>
<circle cx="260.98" cy="532.8" r="1.2" fill="#111" stroke="none" stroke-width="0"/>
<rect x="264.69" y="509.5" width="5.23" height="21.5" fill="#121212"/>
<path d="M266.3,512 L268.3,516 L266.5,521 L268.1,526" stroke="#777" stroke-width="0.8" fill="none"/>
<circle cx="267.3" cy="532.8" r="1.2" fill="#111" stroke="none" stroke-width="0"/>
<rect x="271.02" y="509.5" width="5.23" height="21.5" fill="#121212"/>
<path d="M272.63,512 L274.63,516 L272.83,521 L274.43,526" stroke="#777" stroke-width="0.8" fill="none"/>
<circle cx="273.63" cy="532.8" r="1.2" fill="#111" stroke="none" stroke-width="0"/>
<rect x="277.35" y="509.5" width="5.23" height="21.5" fill="#121212"/>
<path d="M278.96,512 L280.96,516 L279.16,521 L280.76,526" stroke="#777" stroke-width="0.8" fill="none"/>
<circle cx="279.96" cy="532.8" r="1.2" fill="#111" stroke="none" stroke-width="0"/>
<rect x="283.67" y="509.5" width="5.23" height="21.5" fill="#121212"/>
<path d="M285.29,512 L287.29,516 L285.49,521 L287.09,526" stroke="#777" stroke-width="0.8" fill="none"/>
<circle cx="286.29" cy="532.8" r="1.2" fill="#111" stroke="none" stroke-width="0"/>
<rect x="302.4" y="509.5" width="228.9" height="20.5" fill="#8a8a8a"/>
<rect x="302.8" y="509.5" width="5.26" height="21.5" fill="#121212"/>
<path d="M304.43,512 L306.43,516 L304.63,521 L306.23,526" stroke="#777" stroke-width="0.8" fill="none"/>
<circle cx="305.43" cy="532.8" r="1.2" fill="#111" stroke="none" stroke-width="0"/>
<rect x="309.16" y="509.5" width="5.26" height="21.5" fill="#121212"/>
<path d="M310.79,512 L312.79,516 L310.99,521 L312.59,526" stroke="#777" stroke-width="0.8" fill="none"/>
<circle cx="311.79" cy="532.8" r="1.2" fill="#111" stroke="none" stroke-width="0"/>
<rect x="315.52" y="509.5" width="5.26" height="21.5" fill="#121212"/>
<path d="M317.15,512 L319.15,516 L317.35,521 L318.95,526" stroke="#777" stroke-width="0.8" fill="none"/>
<circle cx="318.15" cy="532.8" r="1.2" fill="#111" stroke="none" stroke-width="0"/>
<rect x="321.87" y="509.5" width="5.26" height="21.5" fill="#121212"/>
<path d="M323.5,512 L325.5,516 L323.7,521 L325.3,526" stroke="#777" stroke-width="0.8" fill="none"/>
<circle cx="324.5" cy="532.8" r="1.2" fill="#111" stroke="none" stroke-width="0"/>
<rect x="328.23" y="509.5" width="5.26" height="21.5" fill="#121212"/>
<path d="M329.86,512 L331.86,516 L330.06,521 L331.66,526" stroke="#777" stroke-width="0.8" fill="none"/>
<circle cx="330.86" cy="532.8" r="1.2" fill="#111" stroke="none" stroke-width="0"/>
<rect x="334.59" y="509.5" width="5.26" height="21.5" fill="#121212"/>
<path d="M336.22,512 L338.22,516 L336.42,521 L338.02,526" stroke="#777" stroke-width="0.8" fill="none"/>
<circle cx="337.22" cy="532.8" r="1.2" fill="#111" stroke="none" stroke-width="0"/>
<rect x="340.95" y="509.5" width="5.26" height="21.5" fill="#121212"/>
<path d="M342.58,512 L344.58,516 L342.78,521 L344.38,526" stroke="#777" stroke-width="0.8" fill="none"/>
<circle cx="343.58" cy="532.8" r="1.2" fill="#111" stroke="none" stroke-width="0"/>
<rect x="347.31" y="509.5" width="5.26" height="21.5" fill="#121212"/>
<path d="M348.94,512 L350.94,516 L349.14,521 L350.74,526" stroke="#777" stroke-width="0.8" fill="none"/>
<circle cx="349.94" cy="532.8" r="1.2" fill="#111" stroke="none" stroke-width="0"/>
<rect x="353.67" y="509.5" width="5.26" height="21.5" fill="#121212"/>
<path d="M355.3,512 L357.3,516 L355.5,521 L357.1,526" stroke="#777" stroke-width="0.8" fill="none"/>
<circle cx="356.3" cy="532.8" r="1.2" fill="#111" stroke="none" stroke-width="0"/>
<rect x="360.02" y="509.5" width="5.26" height="21.5" fill="#121212"/>
<path d="M361.65,512 L363.65,516 L361.85,521 L363.45,526" stroke="#777" stroke-width="0.8" fill="none"/>
<circle cx="362.65" cy="532.8" r="1.2" fill="#111" stroke="none" stroke-width="0"/>
<rect x="366.38" y="509.5" width="5.26" height="21.5" fill="#121212"/>
<path d="M368.01,512 L370.01,516 L368.21,521 L369.81,526" stroke="#777" stroke-width="0.8" fill="none"/>
<circle cx="369.01" cy="532.8" r="1.2" fill="#111" stroke="none" stroke-width="0"/>
<rect x="372.74" y="509.5" width="5.26" height="21.5" fill="#121212"/>
<path d="M374.37,512 L376.37,516 L374.57,521 L376.17,526" stroke="#777" stroke-width="0.8" fill="none"/>
<circle cx="375.37" cy="532.8" r="1.2" fill="#111" stroke="none" stroke-width="0"/>
<rect x="379.1" y="509.5" width="5.26" height="21.5" fill="#121212"/>
<path d="M380.73,512 L382.73,516 L380.93,521 L382.53,526" stroke="#777" stroke-width="0.8" fill="none"/>
<circle cx="381.73" cy="532.8" r="1.2" fill="#111" stroke="none" stroke-width="0"/>
<rect x="385.46" y="509.5" width="5.26" height="21.5" fill="#121212"/>
<path d="M387.09,512 L389.09,516 L387.29,521 L388.89,526" stroke="#777" stroke-width="0.8" fill="none"/>
<circle cx="388.09" cy="532.8" r="1.2" fill="#111" stroke="none" stroke-width="0"/>
<rect x="391.82" y="509.5" width="5.26" height="21.5" fill="#121212"/>
<path d="M393.45,512 L395.45,516 L393.65,521 L395.25,526" stroke="#777" stroke-width="0.8" fill="none"/>
<circle cx="394.45" cy="532.8" r="1.2" fill="#111" stroke="none" stroke-width="0"/>
<rect x="398.17" y="509.5" width="5.26" height="21.5" fill="#121212"/>
<path d="M399.8,512 L401.8,516 L400,521 L401.6,526" stroke="#777" stroke-width="0.8" fill="none"/>
<circle cx="400.8" cy="532.8" r="1.2" fill="#111" stroke="none" stroke-width="0"/>
<rect x="404.53" y="509.5" width="5.26" height="21.5" fill="#121212"/>
<path d="M406.16,512 L408.16,516 L406.36,521 L407.96,526" stroke="#777" stroke-width="0.8" fill="none"/>
<circle cx="407.16" cy="532.8" r="1.2" fill="#111" stroke="none" stroke-width="0"/>
<rect x="410.89" y="509.5" width="5.26" height="21.5" fill="#121212"/>
<path d="M412.52,512 L414.52,516 L412.72,521 L414.32,526" stroke="#777" stroke-width="0.8" fill="none"/>
<circle cx="413.52" cy="532.8" r="1.2" fill="#111" stroke="none" stroke-width="0"/>
<rect x="417.25" y="509.5" width="5.26" height="21.5" fill="#121212"/>
<path d="M418.88,512 L420.88,516 L419.08,521 L420.68,526" stroke="#777" stroke-width="0.8" fill="none"/>
<circle cx="419.88" cy="532.8" r="1.2" fill="#111" stroke="none" stroke-width="0"/>
<rect x="423.61" y="509.5" width="5.26" height="21.5" fill="#121212"/>
<path d="M425.24,512 L427.24,516 L425.44,521 L427.04,526" stroke="#777" stroke-width="0.8" fill="none"/>
<circle cx="426.24" cy="532.8" r="1.2" fill="#111" stroke="none" stroke-width="0"/>
<rect x="429.97" y="509.5" width="5.26" height="21.5" fill="#121212"/>
<path d="M431.6,512 L433.6,516 L431.8,521 L433.4,526" stroke="#777" stroke-width="0.8" fill="none"/>
<circle cx="432.6" cy="532.8" r="1.2" fill="#111" stroke="none" stroke-width="0"/>
<rect x="436.32" y="509.5" width="5.26" height="21.5" fill="#121212"/>
<path d="M437.95,512 L439.95,516 L438.15,521 L439.75,526" stroke="#777" stroke-width="0.8" fill="none"/>
<circle cx="438.95" cy="532.8" r="1.2" fill="#111" stroke="none" stroke-width="0"/>
<rect x="442.68" y="509.5" width="5.26" height="21.5" fill="#121212"/>
<path d="M444.31,512 L446.31,516 L444.51,521 L446.11,526" stroke="#777" stroke-width="0.8" fill="none"/>
<circle cx="445.31" cy="532.8" r="1.2" fill="#111" stroke="none" stroke-width="0"/>
<rect x="449.04" y="509.5" width="5.26" height="21.5" fill="#121212"/>
<path d="M450.67,512 L452.67,516 L450.87,521 L452.47,526" stroke="#777" stroke-width="0.8" fill="none"/>
<circle cx="451.67" cy="532.8" r="1.2" fill="#111" stroke="none" stroke-width="0"/>
<rect x="455.4" y="509.5" width="5.26" height="21.5" fill="#121212"/>
<path d="M457.03,512 L459.03,516 L457.23,521 L458.83,526" stroke="#777" stroke-width="0.8" fill="none"/>
<circle cx="458.03" cy="532.8" r="1.2" fill="#111" stroke="none" stroke-width="0"/>
<rect x="461.76" y="509.5" width="5.26" height="21.5" fill="#121212"/>
<path d="M463.39,512 L465.39,516 L463.59,521 L465.19,526" stroke="#777" stroke-width="0.8" fill="none"/>
<circle cx="464.39" cy="532.8" r="1.2" fill="#111" stroke="none" stroke-width="0"/>
<rect x="468.12" y="509.5" width="5.26" height="21.5" fill="#121212"/>
<path d="M469.75,512 L471.75,516 L469.95,521 L471.55,526" stroke="#777" stroke-width="0.8" fill="none"/>
<circle cx="470.75" cy="532.8" r="1.2" fill="#111" stroke="none" stroke-width="0"/>
<rect x="474.47" y="509.5" width="5.26" height="21.5" fill="#121212"/>
<path d="M476.1,512 L478.1,516 L476.3,521 L477.9,526" stroke="#777" stroke-width="0.8" fill="none"/>
<circle cx="477.1" cy="532.8" r="1.2" fill="#111" stroke="none" stroke-width="0"/>
<rect x="480.83" y="509.5" width="5.26" height="21.5" fill="#121212"/>
<path d="M482.46,512 L484.46,516 L482.66,521 L484.26,526" stroke="#777" stroke-width="0.8" fill="none"/>
<circle cx="483.46" cy="532.8" r="1.2" fill="#111" stroke="none" stroke-width="0"/>
<rect x="487.19" y="509.5" width="5.26" height="21.5" fill="#121212"/>
<path d="M488.82,512 L490.82,516 L489.02,521 L490.62,526" stroke="#777" stroke-width="0.8" fill="none"/>
<circle cx="489.82" cy="532.8" r="1.2" fill="#111" stroke="none" stroke-width="0"/>
<rect x="493.55" y="509.5" width="5.26" height="21.5" fill="#121212"/>
<path d="M495.18,512 L497.18,516 L495.38,521 L496.98,526" stroke="#777" stroke-width="0.8" fill="none"/>
<circle cx="496.18" cy="532.8" r="1.2" fill="#111" stroke="none" stroke-width="0"/>
<rect x="499.91" y="509.5" width="5.26" height="21.5" fill="#121212"/>
<path d="M501.54,512 L503.54,516 L501.74,521 L503.34,526" stroke="#777" stroke-width="0.8" fill="none"/>
<circle cx="502.54" cy="532.8" r="1.2" fill="#111" stroke="none" stroke-width="0"/>
<rect x="506.27" y="509.5" width="5.26" height="21.5" fill="#121212"/>
<path d="M507.9,512 L509.9,516 L508.1,521 L509.7,526" stroke="#777" stroke-width="0.8" fill="none"/>
<circle cx="508.9" cy="532.8" r="1.2" fill="#111" stroke="none" stroke-width="0"/>
<rect x="512.62" y="509.5" width="5.26" height="21.5" fill="#121212"/>
<path d="M514.25,512 L516.25,516 L514.45,521 L516.05,526" stroke="#777" stroke-width="0.8" fill="none"/>
<circle cx="515.25" cy="532.8" r="1.2" fill="#111" stroke="none" stroke-width="0"/>
<rect x="518.98" y="509.5" width="5.26" height="21.5" fill="#121212"/>
<path d="M520.61,512 L522.61,516 L520.81,521 L522.41,526" stroke="#777" stroke-width="0.8" fill="none"/>
<circle cx="521.61" cy="532.8" r="1.2" fill="#111" stroke="none" stroke-width="0"/>
<rect x="525.34" y="509.5" width="5.26" height="21.5" fill="#121212"/>
<path d="M526.97,512 L528.97,516 L527.17,521 L528.77,526" stroke="#777" stroke-width="0.8" fill="none"/>
<circle cx="527.97" cy="532.8" r="1.2" fill="#111" stroke="none" stroke-width="0"/>
<rect x="545" y="509.5" width="69.4" height="20.5" fill="#8a8a8a"/>
<rect x="545.4" y="509.5" width="5.21" height="21.5" fill="#121212"/>
<path d="M547,512 L549,516 L547.2,521 L548.8,526" stroke="#777" stroke-width="0.8" fill="none"/>
<circle cx="548" cy="532.8" r="1.2" fill="#111" stroke="none" stroke-width="0"/>
<rect x="551.71" y="509.5" width="5.21" height="21.5" fill="#121212"/>
<path d="M553.31,512 L555.31,516 L553.51,521 L555.11,526" stroke="#777" stroke-width="0.8" fill="none"/>
<circle cx="554.31" cy="532.8" r="1.2" fill="#111" stroke="none" stroke-width="0"/>
<rect x="558.02" y="509.5" width="5.21" height="21.5" fill="#121212"/>
<path d="M559.62,512 L561.62,516 L559.82,521 L561.42,526" stroke="#777" stroke-width="0.8" fill="none"/>
<circle cx="560.62" cy="532.8" r="1.2" fill="#111" stroke="none" stroke-width="0"/>
<rect x="564.33" y="509.5" width="5.21" height="21.5" fill="#121212"/>
<path d="M565.93,512 L567.93,516 L566.13,521 L567.73,526" stroke="#777" stroke-width="0.8" fill="none"/>
<circle cx="566.93" cy="532.8" r="1.2" fill="#111" stroke="none" stroke-width="0"/>
<rect x="570.64" y="509.5" width="5.21" height="21.5" fill="#121212"/>
<path d="M572.24,512 L574.24,516 L572.44,521 L574.04,526" stroke="#777" stroke-width="0.8" fill="none"/>
<circle cx="573.24" cy="532.8" r="1.2" fill="#111" stroke="none" stroke-width="0"/>
<rect x="576.95" y="509.5" width="5.21" height="21.5" fill="#121212"/>
<path d="M578.55,512 L580.55,516 L578.75,521 L580.35,526" stroke="#777" stroke-width="0.8" fill="none"/>
<circle cx="579.55" cy="532.8" r="1.2" fill="#111" stroke="none" stroke-width="0"/>
<rect x="583.25" y="509.5" width="5.21" height="21.5" fill="#121212"/>
<path d="M584.86,512 L586.86,516 L585.06,521 L586.66,526" stroke="#777" stroke-width="0.8" fill="none"/>
<circle cx="585.86" cy="532.8" r="1.2" fill="#111" stroke="none" stroke-width="0"/>
<rect x="589.56" y="509.5" width="5.21" height="21.5" fill="#121212"/>
<path d="M591.17,512 L593.17,516 L591.37,521 L592.97,526" stroke="#777" stroke-width="0.8" fill="none"/>
<circle cx="592.17" cy="532.8" r="1.2" fill="#111" stroke="none" stroke-width="0"/>
<rect x="595.87" y="509.5" width="5.21" height="21.5" fill="#121212"/>
<path d="M597.48,512 L599.48,516 L597.68,521 L599.28,526" stroke="#777" stroke-width="0.8" fill="none"/>
<circle cx="598.48" cy="532.8" r="1.2" fill="#111" stroke="none" stroke-width="0"/>
<rect x="602.18" y="509.5" width="5.21" height="21.5" fill="#121212"/>
<path d="M603.79,512 L605.79,516 L603.99,521 L605.59,526" stroke="#777" stroke-width="0.8" fill="none"/>
<circle cx="604.79" cy="532.8" r="1.2" fill="#111" stroke="none" stroke-width="0"/>
<rect x="608.49" y="509.5" width="5.21" height="21.5" fill="#121212"/>
<path d="M610.1,512 L612.1,516 L610.3,521 L611.9,526" stroke="#777" stroke-width="0.8" fill="none"/>
<circle cx="611.1" cy="532.8" r="1.2" fill="#111" stroke="none" stroke-width="0"/>
<text transform="translate(882.6,313.5) rotate(-90)" font-family="Liberation Sans" font-weight="normal" font-size="13" fill="#111" stroke="#111" stroke-width="0.55" textLength="110" lengthAdjust="spacing">51-12202-0A50</text>
<rect x="859.8" y="322.1" width="20.8" height="29.7" fill="#111"/>
<line x1="861" y1="323.5" x2="879" y2="350.5" stroke="#999" stroke-width="0.8"/>
<text transform="translate(867.5,440.5) rotate(-90)" font-family="Liberation Mono" font-weight="normal" font-size="12.5" fill="#111" stroke="#111" stroke-width="0.45" textLength="77" lengthAdjust="spacing">PCI-6308V</text>
<text transform="translate(881.3,440.5) rotate(-90)" font-family="Liberation Mono" font-weight="normal" font-size="12.5" fill="#111" stroke="#111" stroke-width="0.45" textLength="77" lengthAdjust="spacing">PCI-6308A</text>
<rect x="859.2" y="443.1" width="8" height="7" fill="#111"/>
<rect x="873.2" y="443.1" width="8" height="7" fill="#111"/>
</svg>
</body></html>
